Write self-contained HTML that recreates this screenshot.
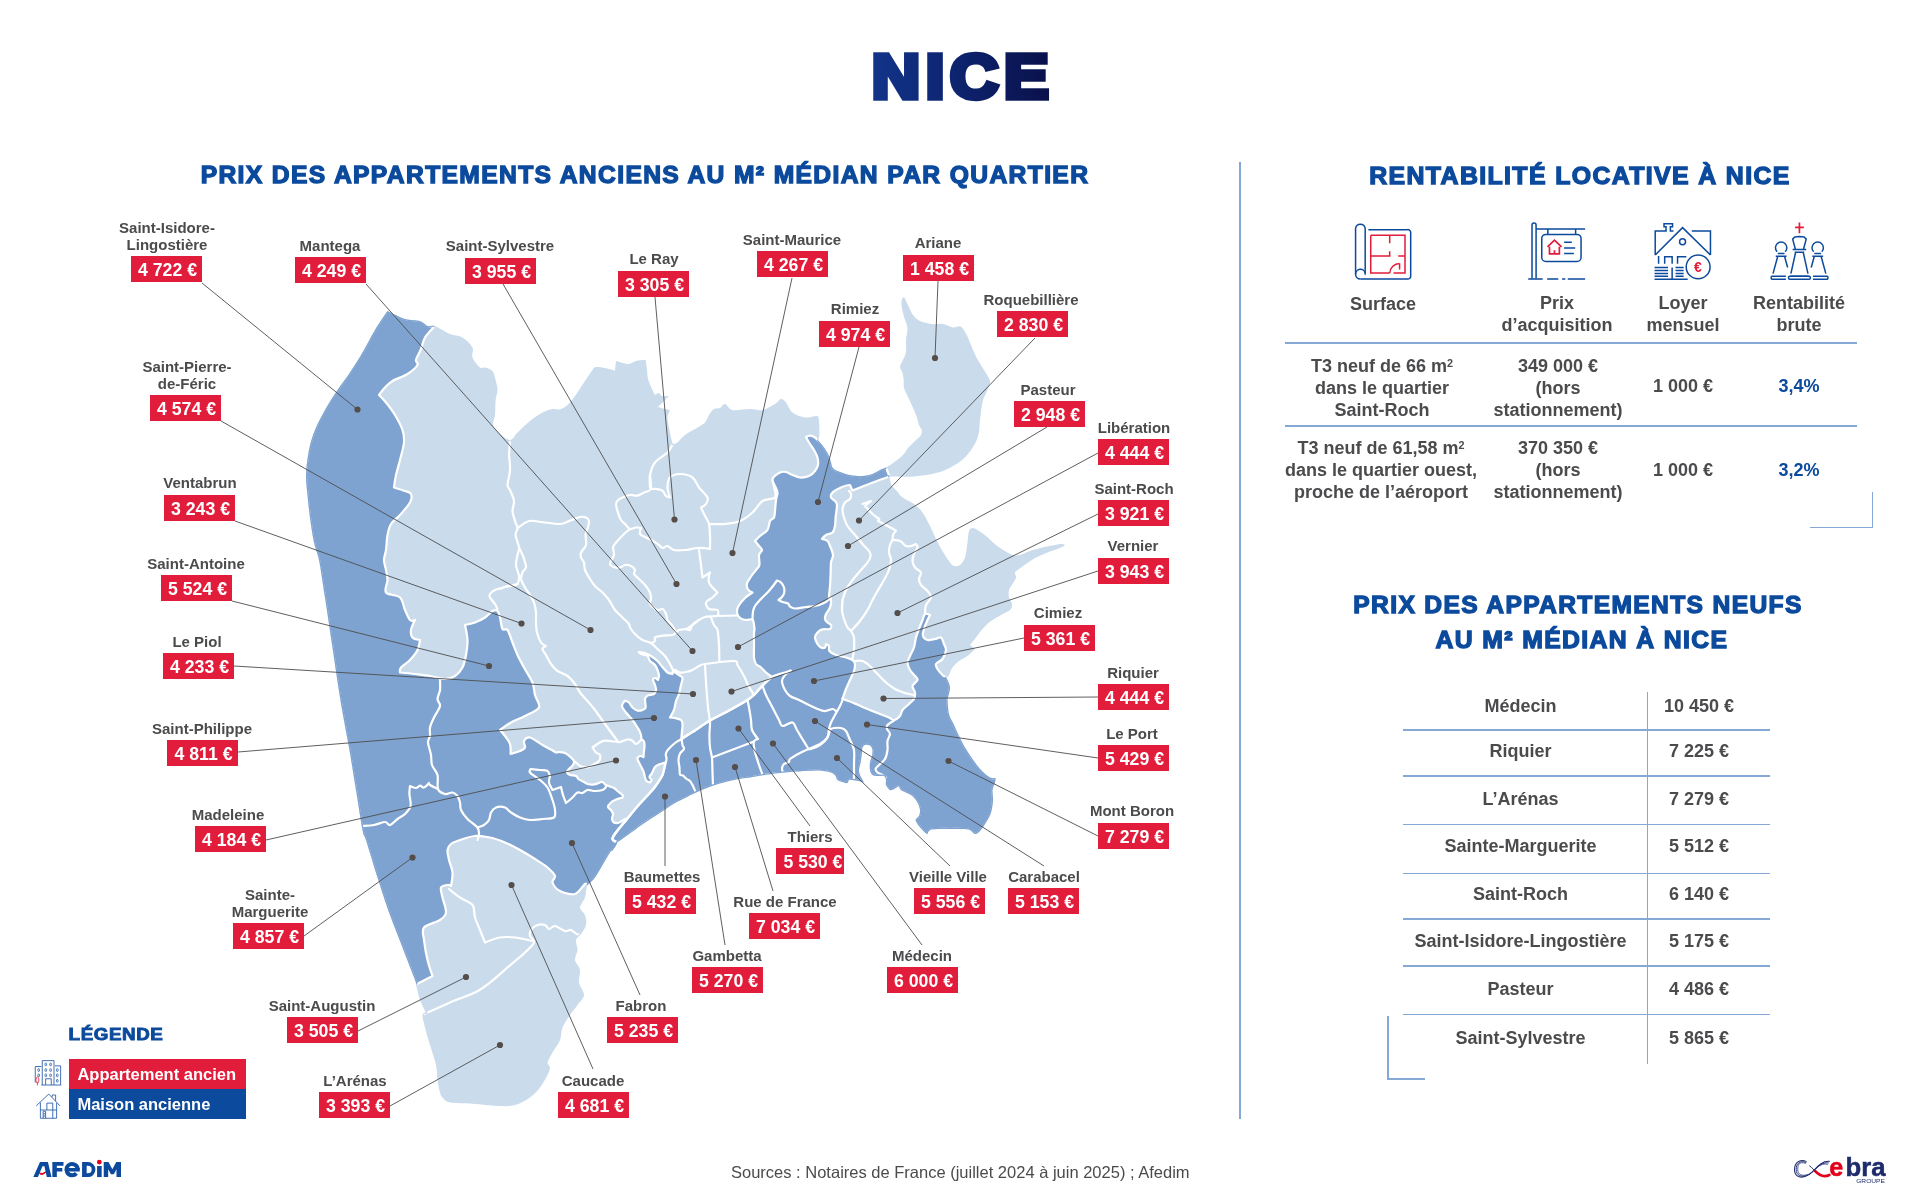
<!DOCTYPE html>
<html lang="fr"><head><meta charset="utf-8"><title>Nice</title>
<style>
html,body{margin:0;padding:0;background:#fff;}
html{overflow:hidden;width:1920px;height:1200px;}
body{width:1920px;height:1200px;position:relative;overflow:hidden;-webkit-font-smoothing:antialiased;font-family:"Liberation Sans",sans-serif;color:#4b4b4d;}
.abs{position:absolute;}
svg.map{position:absolute;left:0;top:0;}
.title{position:absolute;width:1200px;text-align:center;transform-origin:50% 50%;line-height:80px;white-space:nowrap;}
.title span{display:inline-block;font-weight:bold;font-size:62.4px;letter-spacing:5.2px;padding:0 4px;background:linear-gradient(90deg,#12358a 0%,#0d2470 45%,#090f47 100%);-webkit-background-clip:text;background-clip:text;color:transparent;-webkit-text-stroke:5.6px transparent;}
.h2{position:absolute;text-align:center;font-weight:bold;color:#0b4a9c;font-size:23.6px;line-height:30px;white-space:nowrap;-webkit-text-stroke:1.3px #0b4a9c;letter-spacing:1.3px;transform-origin:50% 50%;}
.ln,.bx,.ch,.tn,.tv,.src,.leg{will-change:transform;}
.ln{position:absolute;width:200px;text-align:center;font-weight:bold;font-size:15px;line-height:16.5px;color:#4b4b4d;white-space:nowrap;}
.bx{position:absolute;width:70.7px;height:26.4px;background:#e21d3b;color:#fff;font-weight:bold;font-size:17.7px;line-height:29.4px;text-align:center;white-space:nowrap;box-sizing:border-box;padding-left:2.4px;}
.vl{position:absolute;width:1.6px;background:#86a8d6;}
.hl{position:absolute;height:1.6px;background:#86a8d6;}
.ch{position:absolute;width:200px;text-align:center;font-weight:bold;font-size:18px;line-height:21.75px;color:#4b4b4d;}
.tn{position:absolute;left:1395px;width:251px;text-align:center;font-weight:bold;font-size:18px;line-height:22px;white-space:nowrap;}
.tv{position:absolute;left:1649px;width:100px;text-align:center;font-weight:bold;font-size:18px;line-height:22px;white-space:nowrap;}
.blue{color:#0b4a9c;}
sup{font-size:60%;line-height:0;vertical-align:baseline;position:relative;top:-0.45em;}
.src{position:absolute;left:731px;top:1162px;font-size:16.5px;line-height:20px;color:#4b4b4d;white-space:nowrap;}
.leg{position:absolute;left:68.7px;width:177px;height:30px;color:#fff;font-weight:bold;font-size:16.5px;line-height:30.2px;text-indent:8.4px;}
</style></head><body>
<div class="title" style="left:363.2px;top:36.75px;transform:scaleX(1.0729)"><span>NICE</span></div>
<div class="h2" style="left:44.5px;width:1200px;top:159.75px;transform:scaleX(1.0448);">PRIX DES APPARTEMENTS ANCIENS AU M² MÉDIAN PAR QUARTIER</div>
<svg class="map" width="1920" height="1200" viewBox="0 0 1920 1200"><path d="M387.5 311.0 C387.5 311.0 399.8 317.4 405.0 319.0 C410.2 320.6 416.4 319.9 420.0 321.0 C423.6 322.1 425.1 325.2 427.5 326.0 C429.9 326.8 431.4 324.7 435.0 326.0 C438.6 327.3 445.6 332.2 450.0 334.0 C454.4 335.8 458.9 335.3 462.5 337.5 C466.1 339.7 470.9 344.3 472.5 347.5 C474.1 350.7 471.3 354.3 472.5 357.5 C473.7 360.7 478.0 365.9 480.0 367.5 C482.0 369.1 483.0 366.9 485.0 367.5 C487.0 368.1 490.8 369.0 492.5 371.0 C494.2 373.0 494.8 377.0 495.6 380.0 C496.4 383.0 497.5 386.8 497.5 390.0 C497.5 393.2 496.0 396.0 495.6 400.0 C495.2 404.0 495.4 411.0 495.0 415.0 C494.6 419.0 492.4 422.2 493.0 425.0 C493.6 427.8 496.3 430.1 499.0 432.5 C501.7 434.9 507.0 440.0 510.0 440.0 C513.0 440.0 514.3 435.5 517.5 432.5 C520.7 429.5 526.0 424.2 530.0 421.0 C534.0 417.8 538.9 414.4 542.5 412.5 C546.1 410.6 549.7 409.5 552.5 409.0 C555.3 408.5 557.6 410.0 560.0 409.4 C562.4 408.8 565.1 407.1 567.5 405.0 C569.9 402.9 572.4 399.6 575.0 396.0 C577.6 392.4 581.2 386.7 584.0 382.5 C586.8 378.3 590.6 372.5 592.5 370.0 C594.4 367.5 594.0 367.3 596.0 367.0 C598.0 366.7 602.0 367.4 605.0 368.0 C608.0 368.6 615.0 370.6 615.0 370.6 C615.0 370.6 616.0 361.0 616.0 361.0 C616.0 361.0 618.9 362.0 621.0 362.5 C623.1 363.0 626.4 364.3 629.0 364.0 C631.6 363.7 634.8 361.2 637.5 360.6 C640.2 360.0 645.6 360.0 645.6 360.0 C645.6 360.0 646.6 366.0 647.0 369.0 C647.4 372.0 647.2 375.8 648.0 379.0 C648.8 382.2 650.9 386.4 652.0 389.0 C653.1 391.6 655.0 395.0 655.0 395.0 C655.0 395.0 657.9 392.8 659.0 393.0 C660.1 393.2 660.4 395.5 662.0 396.0 C663.6 396.5 669.0 396.0 669.0 396.0 C669.0 396.0 665.8 399.2 664.0 401.0 C662.2 402.8 658.0 407.0 658.0 407.0 C658.0 407.0 663.1 408.5 665.0 409.0 C666.9 409.5 670.0 410.0 670.0 410.0 C670.0 410.0 667.7 414.7 667.5 417.5 C667.3 420.3 668.4 424.3 669.0 427.5 C669.6 430.7 670.4 434.9 671.0 437.5 C671.6 440.1 673.0 444.0 673.0 444.0 C673.0 444.0 675.6 443.9 677.5 442.5 C679.4 441.1 681.8 437.4 685.0 435.0 C688.2 432.6 694.3 429.5 697.5 427.5 C700.7 425.5 703.2 424.5 705.0 422.5 C706.8 420.5 707.6 417.2 709.0 415.0 C710.4 412.8 712.2 410.1 714.0 409.0 C715.8 407.9 718.2 408.8 720.0 408.0 C721.8 407.2 723.0 403.7 725.0 404.0 C727.0 404.3 728.5 409.2 732.5 410.0 C736.5 410.8 745.2 409.0 750.0 409.0 C754.8 409.0 758.5 410.8 762.5 410.0 C766.5 409.2 772.0 405.8 775.0 404.0 C778.0 402.2 779.2 399.2 781.0 399.0 C782.8 398.8 784.2 400.3 786.0 402.5 C787.8 404.7 789.5 410.1 792.5 412.5 C795.5 414.9 801.1 416.9 805.0 417.5 C808.9 418.1 814.8 415.4 817.0 416.0 C819.2 416.6 818.6 418.8 819.0 421.0 C819.4 423.2 819.3 427.7 819.4 430.0 C819.5 432.3 819.5 434.0 819.4 435.6 C819.3 437.2 818.4 438.9 818.5 440.0 C818.6 441.1 819.0 441.1 820.0 442.5 C821.0 443.9 823.6 446.8 825.0 449.0 C826.4 451.2 828.0 453.8 829.0 456.0 C830.0 458.2 830.4 460.7 831.0 462.5 C831.6 464.3 831.5 466.1 832.5 467.5 C833.5 468.9 834.7 469.8 837.5 471.0 C840.3 472.2 846.0 474.2 850.0 475.0 C854.0 475.8 858.9 476.2 862.5 476.0 C866.1 475.8 869.7 475.0 872.5 474.0 C875.3 473.0 877.8 471.0 880.0 470.0 C882.2 469.0 883.9 468.6 886.0 467.5 C888.1 466.4 890.3 465.0 893.0 463.0 C895.7 461.0 900.6 457.4 903.0 455.0 C905.4 452.6 906.1 450.2 908.0 448.0 C909.9 445.8 912.9 443.1 915.0 441.0 C917.1 438.9 919.9 436.8 921.0 435.0 C922.1 433.2 922.0 431.6 921.7 430.0 C921.4 428.4 919.8 427.1 919.0 425.0 C918.2 422.9 917.7 419.6 916.7 416.7 C915.7 413.8 913.9 409.9 912.5 406.7 C911.1 403.5 909.4 399.7 908.0 396.7 C906.6 393.7 904.7 390.7 904.0 388.0 C903.3 385.3 903.9 382.4 903.7 380.0 C903.5 377.6 903.1 375.1 902.5 373.0 C901.9 370.9 899.9 368.8 900.0 366.7 C900.1 364.6 902.0 362.4 903.0 360.0 C904.0 357.6 905.5 354.9 906.0 351.7 C906.5 348.5 905.8 343.8 906.0 340.0 C906.2 336.2 907.8 331.7 907.5 328.0 C907.2 324.3 904.9 320.1 904.0 316.7 C903.1 313.3 902.1 309.4 901.7 306.7 C901.3 304.0 901.3 301.6 901.7 300.0 C902.1 298.4 904.0 296.7 904.0 296.7 C904.0 296.7 906.6 302.1 908.0 305.0 C909.4 307.9 911.1 312.4 913.0 315.0 C914.9 317.6 917.0 319.6 920.0 321.0 C923.0 322.4 928.0 323.5 931.7 324.0 C935.4 324.5 939.6 323.4 943.0 324.0 C946.4 324.6 950.1 327.1 953.0 327.5 C955.9 327.9 958.8 325.5 961.0 326.7 C963.2 327.9 965.1 332.1 966.7 335.0 C968.3 337.9 969.4 341.3 971.0 345.0 C972.6 348.7 974.6 354.0 976.7 358.0 C978.8 362.0 981.9 366.3 984.0 370.0 C986.1 373.7 989.4 377.8 990.0 381.0 C990.6 384.2 988.6 387.0 987.5 390.0 C986.4 393.0 984.0 396.5 983.0 400.0 C982.0 403.5 981.5 408.0 981.0 411.7 C980.5 415.4 980.0 419.8 979.7 423.0 C979.4 426.2 979.6 428.7 979.0 431.7 C978.4 434.7 977.8 438.1 976.0 441.7 C974.2 445.3 970.9 450.6 968.0 454.0 C965.1 457.4 962.0 460.3 958.0 463.0 C954.0 465.7 948.0 469.1 943.0 471.0 C938.0 472.9 932.0 474.1 926.7 475.0 C921.4 475.9 915.4 476.5 910.0 476.7 C904.6 476.9 896.3 476.5 893.0 476.5 C889.7 476.5 889.5 476.5 889.5 476.5 C889.5 476.5 890.5 482.8 891.5 485.0 C892.5 487.2 894.2 488.0 896.0 490.0 C897.8 492.0 899.6 495.3 902.5 497.5 C905.4 499.7 910.8 501.6 914.0 504.0 C917.2 506.4 919.9 509.0 922.5 512.5 C925.1 516.0 927.8 521.8 930.0 526.0 C932.2 530.2 934.0 535.0 936.0 539.0 C938.0 543.0 940.4 547.5 942.5 551.0 C944.6 554.5 947.2 558.6 949.0 561.0 C950.8 563.4 952.2 565.4 954.0 566.0 C955.8 566.6 958.2 566.4 960.0 565.0 C961.8 563.6 963.8 561.1 965.0 557.5 C966.2 553.9 966.9 546.7 967.5 542.5 C968.1 538.3 968.2 533.3 969.0 531.0 C969.8 528.7 971.1 528.2 972.5 528.0 C973.9 527.8 975.3 528.7 977.5 530.0 C979.7 531.3 983.0 533.6 986.0 536.0 C989.0 538.4 993.0 542.6 996.0 545.0 C999.0 547.4 1002.4 549.4 1005.0 551.0 C1007.6 552.6 1010.1 554.4 1012.5 555.0 C1014.9 555.6 1017.2 555.6 1020.0 555.0 C1022.8 554.4 1026.4 552.2 1030.0 551.0 C1033.6 549.8 1038.5 548.5 1042.5 547.5 C1046.5 546.5 1051.8 545.6 1055.0 545.0 C1058.2 544.4 1060.9 543.9 1062.5 544.0 C1064.1 544.1 1065.0 545.6 1065.0 545.6 C1065.0 545.6 1062.8 546.9 1060.0 548.0 C1057.2 549.1 1051.3 551.0 1047.5 552.5 C1043.7 554.0 1039.4 555.7 1036.0 557.5 C1032.6 559.3 1028.7 562.2 1026.0 564.0 C1023.3 565.8 1020.8 567.6 1019.0 569.0 C1017.2 570.4 1015.5 571.1 1015.0 572.5 C1014.5 573.9 1016.4 575.7 1016.0 577.5 C1015.6 579.3 1013.6 582.0 1012.5 584.0 C1011.4 586.0 1009.6 587.8 1009.0 590.0 C1008.4 592.2 1008.5 595.3 1009.0 597.5 C1009.5 599.7 1011.8 602.0 1012.0 604.0 C1012.2 606.0 1011.8 608.2 1010.0 610.0 C1008.2 611.8 1004.0 613.2 1001.0 615.0 C998.0 616.8 994.0 618.8 991.0 621.0 C988.0 623.2 984.9 626.4 982.5 629.0 C980.1 631.6 978.0 634.9 976.0 637.5 C974.0 640.1 970.0 645.0 970.0 645.0 C970.0 645.0 975.0 649.0 975.0 649.0 C975.0 649.0 970.1 654.1 967.5 656.0 C964.9 657.9 961.4 659.2 959.0 661.0 C956.6 662.8 954.1 665.3 952.5 667.5 C950.9 669.7 950.0 673.3 949.0 675.0 C948.0 676.7 946.0 678.0 946.0 678.0 C946.0 678.0 946.9 678.5 947.5 680.0 C948.1 681.5 949.9 684.7 950.0 687.5 C950.1 690.3 948.4 695.5 948.0 697.5 C947.6 699.5 947.3 697.4 947.5 700.0 C947.7 702.6 948.0 710.0 949.0 714.0 C950.0 718.0 952.4 721.5 954.0 725.0 C955.6 728.5 957.2 732.4 959.0 736.0 C960.8 739.6 962.8 743.8 965.0 747.5 C967.2 751.2 969.9 755.4 972.5 759.0 C975.1 762.6 978.2 767.0 981.0 770.0 C983.8 773.0 987.7 776.2 990.0 777.5 C992.3 778.8 995.6 778.0 995.6 778.0 C995.6 778.0 995.5 780.6 995.0 782.5 C994.5 784.4 992.8 787.2 992.5 790.0 C992.2 792.8 993.2 796.4 993.0 800.0 C992.8 803.6 992.1 808.9 991.0 812.5 C989.9 816.1 987.8 819.5 986.0 822.5 C984.2 825.5 981.8 829.2 980.0 831.0 C978.2 832.8 976.6 834.2 975.0 834.0 C973.4 833.8 972.0 830.8 970.0 830.0 C968.0 829.2 965.7 829.2 962.5 829.0 C959.3 828.8 954.0 829.0 950.0 829.0 C946.0 829.0 940.7 828.8 937.5 829.0 C934.3 829.2 931.6 829.2 930.0 830.0 C928.4 830.8 927.5 834.0 927.5 834.0 C927.5 834.0 926.4 833.8 925.0 832.5 C923.6 831.2 920.5 828.0 919.0 826.0 C917.5 824.0 915.6 821.6 915.6 820.0 C915.6 818.4 918.3 817.6 919.0 816.0 C919.7 814.4 920.2 812.2 920.0 810.0 C919.8 807.8 918.7 804.7 917.5 802.5 C916.3 800.3 914.3 797.6 912.5 796.0 C910.7 794.4 907.8 793.5 906.0 792.5 C904.2 791.5 902.1 791.0 901.0 790.0 C899.9 789.0 899.0 786.0 899.0 786.0 C899.0 786.0 895.4 788.4 894.0 789.0 C892.6 789.6 891.3 790.6 890.0 790.0 C888.7 789.4 886.6 786.6 886.0 785.0 C885.4 783.4 886.3 781.4 886.0 780.0 C885.7 778.6 885.4 776.6 884.0 776.0 C882.6 775.4 879.3 776.2 877.5 776.0 C875.7 775.8 873.7 776.0 872.5 775.0 C871.3 774.0 870.4 772.0 870.0 770.0 C869.6 768.0 869.7 764.7 870.0 762.5 C870.3 760.3 871.6 758.0 872.0 756.0 C872.4 754.0 872.8 751.7 872.5 750.0 C872.2 748.3 871.2 746.4 870.0 745.6 C868.8 744.8 866.2 744.7 865.0 745.0 C863.8 745.3 863.0 746.3 862.5 747.5 C862.0 748.7 862.2 750.5 862.0 752.5 C861.8 754.5 861.3 758.0 861.0 760.0 C860.7 762.0 860.3 763.4 860.0 765.0 C859.7 766.6 859.0 768.4 859.0 770.0 C859.0 771.6 859.2 773.0 860.0 775.0 C860.8 777.0 864.0 782.5 864.0 782.5 C864.0 782.5 860.8 781.4 859.0 781.0 C857.2 780.6 854.1 780.2 852.5 780.0 C850.9 779.8 849.8 779.5 849.0 780.0 C848.2 780.5 848.3 782.6 847.5 783.0 C846.7 783.4 845.6 783.0 844.0 782.5 C842.4 782.0 838.8 781.0 837.5 780.0 C836.2 779.0 836.6 777.2 835.6 776.0 C834.6 774.8 833.7 773.4 831.0 772.5 C828.3 771.6 822.4 770.9 819.0 770.6 C815.6 770.3 814.6 770.6 810.0 770.8 C805.4 771.0 796.4 771.5 790.0 772.0 C783.6 772.5 776.0 773.4 770.0 774.2 C764.0 775.0 758.3 776.1 752.5 777.0 C746.7 777.9 740.0 778.7 734.0 780.0 C728.0 781.3 721.1 783.0 715.0 785.0 C708.9 787.0 700.6 790.5 696.0 792.5 C691.4 794.5 689.4 795.8 686.0 797.5 C682.6 799.2 678.4 801.1 675.0 803.0 C671.6 804.9 668.7 807.1 665.0 809.5 C661.3 811.9 656.0 815.4 652.0 818.0 C648.0 820.6 642.9 824.0 640.0 826.0 C637.1 828.0 637.6 827.9 634.0 830.5 C630.4 833.1 620.6 839.4 617.2 842.5 C613.9 845.6 614.2 848.4 613.0 850.0 C611.8 851.6 611.7 850.1 610.0 852.5 C608.3 854.9 604.9 861.0 602.5 865.0 C600.1 869.0 597.4 874.3 595.0 877.5 C592.6 880.7 589.1 881.8 587.5 885.0 C585.9 888.2 586.2 893.9 585.0 897.5 C583.8 901.1 580.0 904.7 580.0 907.5 C580.0 910.3 584.0 912.2 585.0 915.0 C586.0 917.8 586.6 922.0 586.0 925.0 C585.4 928.0 582.6 931.6 581.0 934.0 C579.4 936.4 576.6 937.4 576.0 940.0 C575.4 942.6 577.7 946.8 577.5 950.0 C577.3 953.2 574.6 956.8 575.0 960.0 C575.4 963.2 579.4 966.4 580.0 970.0 C580.6 973.6 578.4 978.5 579.0 982.5 C579.6 986.5 584.2 991.4 584.0 995.0 C583.8 998.6 579.7 1001.8 577.5 1005.0 C575.3 1008.2 572.4 1011.4 570.0 1015.0 C567.6 1018.6 564.1 1023.5 562.5 1027.5 C560.9 1031.5 561.6 1036.0 560.0 1040.0 C558.4 1044.0 554.5 1048.9 552.5 1052.5 C550.5 1056.1 547.9 1060.1 547.5 1062.5 C547.1 1064.9 550.0 1065.5 550.0 1067.5 C550.0 1069.5 549.1 1071.8 547.5 1075.0 C545.9 1078.2 542.8 1083.9 540.0 1087.5 C537.2 1091.1 534.0 1094.7 530.0 1097.5 C526.0 1100.3 520.2 1103.6 515.0 1105.0 C509.8 1106.4 504.3 1106.2 497.5 1106.0 C490.7 1105.8 480.1 1104.3 472.5 1103.8 C464.9 1103.2 454.8 1103.5 450.0 1102.5 C445.2 1101.5 444.1 1099.1 442.5 1097.5 C440.9 1095.9 440.8 1095.3 440.0 1092.5 C439.2 1089.7 438.1 1084.4 437.5 1080.0 C436.9 1075.6 437.2 1070.6 436.0 1065.0 C434.8 1059.4 431.8 1051.0 430.0 1045.0 C428.2 1039.0 426.2 1032.3 425.0 1027.5 C423.8 1022.7 422.3 1017.4 422.5 1015.0 C422.7 1012.6 426.0 1012.5 426.0 1012.5 C426.0 1012.5 421.6 1004.5 420.0 1000.0 C418.4 995.5 416.8 987.7 416.0 984.5 C415.2 981.3 417.2 985.9 415.0 980.0 C412.8 974.1 406.5 957.9 402.5 947.5 C398.5 937.1 394.0 926.2 390.0 915.0 C386.0 903.8 381.3 889.5 377.5 877.5 C373.7 865.5 368.4 847.6 366.0 840.0 C363.6 832.4 364.1 838.0 362.5 830.0 C360.9 822.0 358.2 803.2 356.0 790.0 C353.8 776.8 351.6 762.3 349.0 747.5 C346.4 732.7 342.6 713.5 340.0 697.5 C337.4 681.5 334.9 663.5 332.5 647.5 C330.1 631.5 327.2 611.5 325.0 597.5 C322.8 583.5 320.8 568.8 319.0 560.0 C317.2 551.2 315.4 549.3 314.0 542.5 C312.6 535.7 311.0 525.1 310.0 517.5 C309.0 509.9 308.1 501.8 307.5 495.0 C306.9 488.2 305.8 482.2 306.0 475.0 C306.2 467.8 307.6 457.2 309.0 450.0 C310.4 442.8 312.4 436.4 315.0 430.0 C317.6 423.6 321.4 416.4 325.0 410.0 C328.6 403.6 333.5 396.0 337.5 390.0 C341.5 384.0 346.0 378.5 350.0 372.5 C354.0 366.5 358.5 359.3 362.5 352.5 C366.5 345.7 371.0 336.6 375.0 330.0 C379.0 323.4 387.5 311.0 387.5 311.0 Z" fill="#cadbec"/><defs><mask id="mk" maskUnits="userSpaceOnUse" x="0" y="0" width="1920" height="1200"><path d="M387.5 311.0 C387.5 311.0 399.8 317.4 405.0 319.0 C410.2 320.6 416.4 319.9 420.0 321.0 C423.6 322.1 425.1 325.2 427.5 326.0 C429.9 326.8 431.4 324.7 435.0 326.0 C438.6 327.3 445.6 332.2 450.0 334.0 C454.4 335.8 458.9 335.3 462.5 337.5 C466.1 339.7 470.9 344.3 472.5 347.5 C474.1 350.7 471.3 354.3 472.5 357.5 C473.7 360.7 478.0 365.9 480.0 367.5 C482.0 369.1 483.0 366.9 485.0 367.5 C487.0 368.1 490.8 369.0 492.5 371.0 C494.2 373.0 494.8 377.0 495.6 380.0 C496.4 383.0 497.5 386.8 497.5 390.0 C497.5 393.2 496.0 396.0 495.6 400.0 C495.2 404.0 495.4 411.0 495.0 415.0 C494.6 419.0 492.4 422.2 493.0 425.0 C493.6 427.8 496.3 430.1 499.0 432.5 C501.7 434.9 507.0 440.0 510.0 440.0 C513.0 440.0 514.3 435.5 517.5 432.5 C520.7 429.5 526.0 424.2 530.0 421.0 C534.0 417.8 538.9 414.4 542.5 412.5 C546.1 410.6 549.7 409.5 552.5 409.0 C555.3 408.5 557.6 410.0 560.0 409.4 C562.4 408.8 565.1 407.1 567.5 405.0 C569.9 402.9 572.4 399.6 575.0 396.0 C577.6 392.4 581.2 386.7 584.0 382.5 C586.8 378.3 590.6 372.5 592.5 370.0 C594.4 367.5 594.0 367.3 596.0 367.0 C598.0 366.7 602.0 367.4 605.0 368.0 C608.0 368.6 615.0 370.6 615.0 370.6 C615.0 370.6 616.0 361.0 616.0 361.0 C616.0 361.0 618.9 362.0 621.0 362.5 C623.1 363.0 626.4 364.3 629.0 364.0 C631.6 363.7 634.8 361.2 637.5 360.6 C640.2 360.0 645.6 360.0 645.6 360.0 C645.6 360.0 646.6 366.0 647.0 369.0 C647.4 372.0 647.2 375.8 648.0 379.0 C648.8 382.2 650.9 386.4 652.0 389.0 C653.1 391.6 655.0 395.0 655.0 395.0 C655.0 395.0 657.9 392.8 659.0 393.0 C660.1 393.2 660.4 395.5 662.0 396.0 C663.6 396.5 669.0 396.0 669.0 396.0 C669.0 396.0 665.8 399.2 664.0 401.0 C662.2 402.8 658.0 407.0 658.0 407.0 C658.0 407.0 663.1 408.5 665.0 409.0 C666.9 409.5 670.0 410.0 670.0 410.0 C670.0 410.0 667.7 414.7 667.5 417.5 C667.3 420.3 668.4 424.3 669.0 427.5 C669.6 430.7 670.4 434.9 671.0 437.5 C671.6 440.1 673.0 444.0 673.0 444.0 C673.0 444.0 675.6 443.9 677.5 442.5 C679.4 441.1 681.8 437.4 685.0 435.0 C688.2 432.6 694.3 429.5 697.5 427.5 C700.7 425.5 703.2 424.5 705.0 422.5 C706.8 420.5 707.6 417.2 709.0 415.0 C710.4 412.8 712.2 410.1 714.0 409.0 C715.8 407.9 718.2 408.8 720.0 408.0 C721.8 407.2 723.0 403.7 725.0 404.0 C727.0 404.3 728.5 409.2 732.5 410.0 C736.5 410.8 745.2 409.0 750.0 409.0 C754.8 409.0 758.5 410.8 762.5 410.0 C766.5 409.2 772.0 405.8 775.0 404.0 C778.0 402.2 779.2 399.2 781.0 399.0 C782.8 398.8 784.2 400.3 786.0 402.5 C787.8 404.7 789.5 410.1 792.5 412.5 C795.5 414.9 801.1 416.9 805.0 417.5 C808.9 418.1 814.8 415.4 817.0 416.0 C819.2 416.6 818.6 418.8 819.0 421.0 C819.4 423.2 819.3 427.7 819.4 430.0 C819.5 432.3 819.5 434.0 819.4 435.6 C819.3 437.2 818.4 438.9 818.5 440.0 C818.6 441.1 819.0 441.1 820.0 442.5 C821.0 443.9 823.6 446.8 825.0 449.0 C826.4 451.2 828.0 453.8 829.0 456.0 C830.0 458.2 830.4 460.7 831.0 462.5 C831.6 464.3 831.5 466.1 832.5 467.5 C833.5 468.9 834.7 469.8 837.5 471.0 C840.3 472.2 846.0 474.2 850.0 475.0 C854.0 475.8 858.9 476.2 862.5 476.0 C866.1 475.8 869.7 475.0 872.5 474.0 C875.3 473.0 877.8 471.0 880.0 470.0 C882.2 469.0 883.9 468.6 886.0 467.5 C888.1 466.4 890.3 465.0 893.0 463.0 C895.7 461.0 900.6 457.4 903.0 455.0 C905.4 452.6 906.1 450.2 908.0 448.0 C909.9 445.8 912.9 443.1 915.0 441.0 C917.1 438.9 919.9 436.8 921.0 435.0 C922.1 433.2 922.0 431.6 921.7 430.0 C921.4 428.4 919.8 427.1 919.0 425.0 C918.2 422.9 917.7 419.6 916.7 416.7 C915.7 413.8 913.9 409.9 912.5 406.7 C911.1 403.5 909.4 399.7 908.0 396.7 C906.6 393.7 904.7 390.7 904.0 388.0 C903.3 385.3 903.9 382.4 903.7 380.0 C903.5 377.6 903.1 375.1 902.5 373.0 C901.9 370.9 899.9 368.8 900.0 366.7 C900.1 364.6 902.0 362.4 903.0 360.0 C904.0 357.6 905.5 354.9 906.0 351.7 C906.5 348.5 905.8 343.8 906.0 340.0 C906.2 336.2 907.8 331.7 907.5 328.0 C907.2 324.3 904.9 320.1 904.0 316.7 C903.1 313.3 902.1 309.4 901.7 306.7 C901.3 304.0 901.3 301.6 901.7 300.0 C902.1 298.4 904.0 296.7 904.0 296.7 C904.0 296.7 906.6 302.1 908.0 305.0 C909.4 307.9 911.1 312.4 913.0 315.0 C914.9 317.6 917.0 319.6 920.0 321.0 C923.0 322.4 928.0 323.5 931.7 324.0 C935.4 324.5 939.6 323.4 943.0 324.0 C946.4 324.6 950.1 327.1 953.0 327.5 C955.9 327.9 958.8 325.5 961.0 326.7 C963.2 327.9 965.1 332.1 966.7 335.0 C968.3 337.9 969.4 341.3 971.0 345.0 C972.6 348.7 974.6 354.0 976.7 358.0 C978.8 362.0 981.9 366.3 984.0 370.0 C986.1 373.7 989.4 377.8 990.0 381.0 C990.6 384.2 988.6 387.0 987.5 390.0 C986.4 393.0 984.0 396.5 983.0 400.0 C982.0 403.5 981.5 408.0 981.0 411.7 C980.5 415.4 980.0 419.8 979.7 423.0 C979.4 426.2 979.6 428.7 979.0 431.7 C978.4 434.7 977.8 438.1 976.0 441.7 C974.2 445.3 970.9 450.6 968.0 454.0 C965.1 457.4 962.0 460.3 958.0 463.0 C954.0 465.7 948.0 469.1 943.0 471.0 C938.0 472.9 932.0 474.1 926.7 475.0 C921.4 475.9 915.4 476.5 910.0 476.7 C904.6 476.9 896.3 476.5 893.0 476.5 C889.7 476.5 889.5 476.5 889.5 476.5 C889.5 476.5 890.5 482.8 891.5 485.0 C892.5 487.2 894.2 488.0 896.0 490.0 C897.8 492.0 899.6 495.3 902.5 497.5 C905.4 499.7 910.8 501.6 914.0 504.0 C917.2 506.4 919.9 509.0 922.5 512.5 C925.1 516.0 927.8 521.8 930.0 526.0 C932.2 530.2 934.0 535.0 936.0 539.0 C938.0 543.0 940.4 547.5 942.5 551.0 C944.6 554.5 947.2 558.6 949.0 561.0 C950.8 563.4 952.2 565.4 954.0 566.0 C955.8 566.6 958.2 566.4 960.0 565.0 C961.8 563.6 963.8 561.1 965.0 557.5 C966.2 553.9 966.9 546.7 967.5 542.5 C968.1 538.3 968.2 533.3 969.0 531.0 C969.8 528.7 971.1 528.2 972.5 528.0 C973.9 527.8 975.3 528.7 977.5 530.0 C979.7 531.3 983.0 533.6 986.0 536.0 C989.0 538.4 993.0 542.6 996.0 545.0 C999.0 547.4 1002.4 549.4 1005.0 551.0 C1007.6 552.6 1010.1 554.4 1012.5 555.0 C1014.9 555.6 1017.2 555.6 1020.0 555.0 C1022.8 554.4 1026.4 552.2 1030.0 551.0 C1033.6 549.8 1038.5 548.5 1042.5 547.5 C1046.5 546.5 1051.8 545.6 1055.0 545.0 C1058.2 544.4 1060.9 543.9 1062.5 544.0 C1064.1 544.1 1065.0 545.6 1065.0 545.6 C1065.0 545.6 1062.8 546.9 1060.0 548.0 C1057.2 549.1 1051.3 551.0 1047.5 552.5 C1043.7 554.0 1039.4 555.7 1036.0 557.5 C1032.6 559.3 1028.7 562.2 1026.0 564.0 C1023.3 565.8 1020.8 567.6 1019.0 569.0 C1017.2 570.4 1015.5 571.1 1015.0 572.5 C1014.5 573.9 1016.4 575.7 1016.0 577.5 C1015.6 579.3 1013.6 582.0 1012.5 584.0 C1011.4 586.0 1009.6 587.8 1009.0 590.0 C1008.4 592.2 1008.5 595.3 1009.0 597.5 C1009.5 599.7 1011.8 602.0 1012.0 604.0 C1012.2 606.0 1011.8 608.2 1010.0 610.0 C1008.2 611.8 1004.0 613.2 1001.0 615.0 C998.0 616.8 994.0 618.8 991.0 621.0 C988.0 623.2 984.9 626.4 982.5 629.0 C980.1 631.6 978.0 634.9 976.0 637.5 C974.0 640.1 970.0 645.0 970.0 645.0 C970.0 645.0 975.0 649.0 975.0 649.0 C975.0 649.0 970.1 654.1 967.5 656.0 C964.9 657.9 961.4 659.2 959.0 661.0 C956.6 662.8 954.1 665.3 952.5 667.5 C950.9 669.7 950.0 673.3 949.0 675.0 C948.0 676.7 946.0 678.0 946.0 678.0 C946.0 678.0 946.9 678.5 947.5 680.0 C948.1 681.5 949.9 684.7 950.0 687.5 C950.1 690.3 948.4 695.5 948.0 697.5 C947.6 699.5 947.3 697.4 947.5 700.0 C947.7 702.6 948.0 710.0 949.0 714.0 C950.0 718.0 952.4 721.5 954.0 725.0 C955.6 728.5 957.2 732.4 959.0 736.0 C960.8 739.6 962.8 743.8 965.0 747.5 C967.2 751.2 969.9 755.4 972.5 759.0 C975.1 762.6 978.2 767.0 981.0 770.0 C983.8 773.0 987.7 776.2 990.0 777.5 C992.3 778.8 995.6 778.0 995.6 778.0 C995.6 778.0 995.5 780.6 995.0 782.5 C994.5 784.4 992.8 787.2 992.5 790.0 C992.2 792.8 993.2 796.4 993.0 800.0 C992.8 803.6 992.1 808.9 991.0 812.5 C989.9 816.1 987.8 819.5 986.0 822.5 C984.2 825.5 981.8 829.2 980.0 831.0 C978.2 832.8 976.6 834.2 975.0 834.0 C973.4 833.8 972.0 830.8 970.0 830.0 C968.0 829.2 965.7 829.2 962.5 829.0 C959.3 828.8 954.0 829.0 950.0 829.0 C946.0 829.0 940.7 828.8 937.5 829.0 C934.3 829.2 931.6 829.2 930.0 830.0 C928.4 830.8 927.5 834.0 927.5 834.0 C927.5 834.0 926.4 833.8 925.0 832.5 C923.6 831.2 920.5 828.0 919.0 826.0 C917.5 824.0 915.6 821.6 915.6 820.0 C915.6 818.4 918.3 817.6 919.0 816.0 C919.7 814.4 920.2 812.2 920.0 810.0 C919.8 807.8 918.7 804.7 917.5 802.5 C916.3 800.3 914.3 797.6 912.5 796.0 C910.7 794.4 907.8 793.5 906.0 792.5 C904.2 791.5 902.1 791.0 901.0 790.0 C899.9 789.0 899.0 786.0 899.0 786.0 C899.0 786.0 895.4 788.4 894.0 789.0 C892.6 789.6 891.3 790.6 890.0 790.0 C888.7 789.4 886.6 786.6 886.0 785.0 C885.4 783.4 886.3 781.4 886.0 780.0 C885.7 778.6 885.4 776.6 884.0 776.0 C882.6 775.4 879.3 776.2 877.5 776.0 C875.7 775.8 873.7 776.0 872.5 775.0 C871.3 774.0 870.4 772.0 870.0 770.0 C869.6 768.0 869.7 764.7 870.0 762.5 C870.3 760.3 871.6 758.0 872.0 756.0 C872.4 754.0 872.8 751.7 872.5 750.0 C872.2 748.3 871.2 746.4 870.0 745.6 C868.8 744.8 866.2 744.7 865.0 745.0 C863.8 745.3 863.0 746.3 862.5 747.5 C862.0 748.7 862.2 750.5 862.0 752.5 C861.8 754.5 861.3 758.0 861.0 760.0 C860.7 762.0 860.3 763.4 860.0 765.0 C859.7 766.6 859.0 768.4 859.0 770.0 C859.0 771.6 859.2 773.0 860.0 775.0 C860.8 777.0 864.0 782.5 864.0 782.5 C864.0 782.5 860.8 781.4 859.0 781.0 C857.2 780.6 854.1 780.2 852.5 780.0 C850.9 779.8 849.8 779.5 849.0 780.0 C848.2 780.5 848.3 782.6 847.5 783.0 C846.7 783.4 845.6 783.0 844.0 782.5 C842.4 782.0 838.8 781.0 837.5 780.0 C836.2 779.0 836.6 777.2 835.6 776.0 C834.6 774.8 833.7 773.4 831.0 772.5 C828.3 771.6 822.4 770.9 819.0 770.6 C815.6 770.3 814.6 770.6 810.0 770.8 C805.4 771.0 796.4 771.5 790.0 772.0 C783.6 772.5 776.0 773.4 770.0 774.2 C764.0 775.0 758.3 776.1 752.5 777.0 C746.7 777.9 740.0 778.7 734.0 780.0 C728.0 781.3 721.1 783.0 715.0 785.0 C708.9 787.0 700.6 790.5 696.0 792.5 C691.4 794.5 689.4 795.8 686.0 797.5 C682.6 799.2 678.4 801.1 675.0 803.0 C671.6 804.9 668.7 807.1 665.0 809.5 C661.3 811.9 656.0 815.4 652.0 818.0 C648.0 820.6 642.9 824.0 640.0 826.0 C637.1 828.0 637.6 827.9 634.0 830.5 C630.4 833.1 620.6 839.4 617.2 842.5 C613.9 845.6 614.2 848.4 613.0 850.0 C611.8 851.6 611.7 850.1 610.0 852.5 C608.3 854.9 604.9 861.0 602.5 865.0 C600.1 869.0 597.4 874.3 595.0 877.5 C592.6 880.7 589.1 881.8 587.5 885.0 C585.9 888.2 586.2 893.9 585.0 897.5 C583.8 901.1 580.0 904.7 580.0 907.5 C580.0 910.3 584.0 912.2 585.0 915.0 C586.0 917.8 586.6 922.0 586.0 925.0 C585.4 928.0 582.6 931.6 581.0 934.0 C579.4 936.4 576.6 937.4 576.0 940.0 C575.4 942.6 577.7 946.8 577.5 950.0 C577.3 953.2 574.6 956.8 575.0 960.0 C575.4 963.2 579.4 966.4 580.0 970.0 C580.6 973.6 578.4 978.5 579.0 982.5 C579.6 986.5 584.2 991.4 584.0 995.0 C583.8 998.6 579.7 1001.8 577.5 1005.0 C575.3 1008.2 572.4 1011.4 570.0 1015.0 C567.6 1018.6 564.1 1023.5 562.5 1027.5 C560.9 1031.5 561.6 1036.0 560.0 1040.0 C558.4 1044.0 554.5 1048.9 552.5 1052.5 C550.5 1056.1 547.9 1060.1 547.5 1062.5 C547.1 1064.9 550.0 1065.5 550.0 1067.5 C550.0 1069.5 549.1 1071.8 547.5 1075.0 C545.9 1078.2 542.8 1083.9 540.0 1087.5 C537.2 1091.1 534.0 1094.7 530.0 1097.5 C526.0 1100.3 520.2 1103.6 515.0 1105.0 C509.8 1106.4 504.3 1106.2 497.5 1106.0 C490.7 1105.8 480.1 1104.3 472.5 1103.8 C464.9 1103.2 454.8 1103.5 450.0 1102.5 C445.2 1101.5 444.1 1099.1 442.5 1097.5 C440.9 1095.9 440.8 1095.3 440.0 1092.5 C439.2 1089.7 438.1 1084.4 437.5 1080.0 C436.9 1075.6 437.2 1070.6 436.0 1065.0 C434.8 1059.4 431.8 1051.0 430.0 1045.0 C428.2 1039.0 426.2 1032.3 425.0 1027.5 C423.8 1022.7 422.3 1017.4 422.5 1015.0 C422.7 1012.6 426.0 1012.5 426.0 1012.5 C426.0 1012.5 421.6 1004.5 420.0 1000.0 C418.4 995.5 416.8 987.7 416.0 984.5 C415.2 981.3 417.2 985.9 415.0 980.0 C412.8 974.1 406.5 957.9 402.5 947.5 C398.5 937.1 394.0 926.2 390.0 915.0 C386.0 903.8 381.3 889.5 377.5 877.5 C373.7 865.5 368.4 847.6 366.0 840.0 C363.6 832.4 364.1 838.0 362.5 830.0 C360.9 822.0 358.2 803.2 356.0 790.0 C353.8 776.8 351.6 762.3 349.0 747.5 C346.4 732.7 342.6 713.5 340.0 697.5 C337.4 681.5 334.9 663.5 332.5 647.5 C330.1 631.5 327.2 611.5 325.0 597.5 C322.8 583.5 320.8 568.8 319.0 560.0 C317.2 551.2 315.4 549.3 314.0 542.5 C312.6 535.7 311.0 525.1 310.0 517.5 C309.0 509.9 308.1 501.8 307.5 495.0 C306.9 488.2 305.8 482.2 306.0 475.0 C306.2 467.8 307.6 457.2 309.0 450.0 C310.4 442.8 312.4 436.4 315.0 430.0 C317.6 423.6 321.4 416.4 325.0 410.0 C328.6 403.6 333.5 396.0 337.5 390.0 C341.5 384.0 346.0 378.5 350.0 372.5 C354.0 366.5 358.5 359.3 362.5 352.5 C366.5 345.7 371.0 336.6 375.0 330.0 C379.0 323.4 387.5 311.0 387.5 311.0 Z" fill="#fff" stroke="#000" stroke-width="2.6"/></mask></defs><path d="M435.0 326.0 C435.0 326.0 427.2 333.8 425.0 337.5 C422.8 341.2 422.4 345.4 421.0 349.0 C419.6 352.6 416.6 357.4 416.0 360.0 C415.4 362.6 418.9 362.8 417.5 365.0 C416.1 367.2 411.5 371.4 407.5 374.0 C403.5 376.6 396.1 378.8 392.5 381.0 C388.9 383.2 387.2 385.3 385.0 387.5 C382.8 389.7 379.0 395.0 379.0 395.0 C379.0 395.0 383.4 399.3 386.0 402.5 C388.6 405.7 392.4 410.6 395.0 415.0 C397.6 419.4 401.1 425.6 402.5 430.0 C403.9 434.4 404.4 437.7 404.0 442.5 C403.6 447.3 401.3 454.8 400.0 460.0 C398.7 465.2 397.0 470.6 396.0 475.0 C395.0 479.4 394.0 487.5 394.0 487.5 C394.0 487.5 402.3 490.0 405.0 491.0 C407.7 492.0 410.2 492.2 411.0 494.0 C411.8 495.8 411.8 499.1 410.0 502.5 C408.2 505.9 403.0 511.6 400.0 515.0 C397.0 518.4 393.0 520.8 391.0 524.0 C389.0 527.2 388.3 530.8 387.5 535.0 C386.7 539.2 386.6 546.0 386.0 550.0 C385.4 554.0 384.0 556.8 384.0 560.0 C384.0 563.2 385.4 566.8 386.0 570.0 C386.6 573.2 387.5 576.4 387.5 580.0 C387.5 583.6 384.0 589.7 386.0 592.5 C388.0 595.3 397.0 594.7 400.0 597.5 C403.0 600.3 403.4 606.4 405.0 610.0 C406.6 613.6 408.4 618.4 410.0 620.0 C411.6 621.6 415.0 620.0 415.0 620.0 C415.0 620.0 411.4 627.2 411.0 630.0 C410.6 632.8 411.1 635.9 412.5 637.5 C413.9 639.1 420.0 640.0 420.0 640.0 C420.0 640.0 419.1 646.8 417.5 650.0 C415.9 653.2 412.6 657.2 410.0 660.0 C407.4 662.8 402.6 665.5 401.0 667.5 C399.4 669.5 400.0 672.5 400.0 672.5 C400.0 672.5 410.2 673.4 415.0 674.0 C419.8 674.6 425.2 675.2 430.0 676.0 C434.8 676.8 441.0 679.0 445.0 679.0 C449.0 679.0 452.2 677.8 455.0 676.0 C457.8 674.2 460.7 670.9 462.5 667.5 C464.3 664.1 465.2 659.4 466.0 655.0 C466.8 650.6 467.7 644.8 467.5 640.0 C467.3 635.2 465.0 625.0 465.0 625.0 C465.0 625.0 471.8 623.7 475.0 622.5 C478.2 621.3 482.2 619.3 485.0 617.5 C487.8 615.7 490.5 612.0 492.5 611.0 C494.5 610.0 496.3 610.0 497.5 611.0 C498.7 612.0 499.2 614.6 500.0 617.5 C500.8 620.4 501.3 627.0 502.5 629.0 C503.7 631.0 505.9 627.8 507.5 630.0 C509.1 632.2 510.9 638.5 512.5 642.5 C514.1 646.5 515.7 651.0 517.5 655.0 C519.3 659.0 521.6 663.1 524.0 667.5 C526.4 671.9 530.7 678.1 532.5 682.5 C534.3 686.9 534.0 691.0 535.0 695.0 C536.0 699.0 540.6 704.1 539.0 707.5 C537.4 710.9 529.5 713.6 525.0 716.0 C520.5 718.4 515.0 720.3 511.0 722.5 C507.0 724.7 500.0 730.0 500.0 730.0 C500.0 730.0 503.4 733.8 505.0 736.0 C506.6 738.2 509.1 741.1 510.0 744.0 C510.9 746.9 510.6 754.0 510.6 754.0 C510.6 754.0 517.7 752.0 520.0 751.0 C522.3 750.0 524.4 749.1 525.0 747.5 C525.6 745.9 523.2 742.6 524.0 741.0 C524.8 739.4 527.0 736.9 530.0 737.5 C533.0 738.1 539.0 743.0 542.5 745.0 C546.0 747.0 549.8 748.8 552.0 750.0 C554.2 751.2 554.9 752.2 556.0 752.5 C557.1 752.8 557.6 751.9 559.0 752.0 C560.4 752.1 563.1 752.1 565.0 753.0 C566.9 753.9 569.6 756.2 571.0 757.5 C572.4 758.8 573.7 759.8 574.0 761.0 C574.3 762.2 573.8 763.7 573.0 765.0 C572.2 766.3 570.0 767.8 569.0 769.0 C568.0 770.2 566.8 771.5 567.0 772.5 C567.2 773.5 568.6 774.4 570.0 775.0 C571.4 775.6 574.6 775.3 576.0 776.0 C577.4 776.7 577.7 778.5 579.0 779.5 C580.3 780.5 582.6 781.3 584.0 782.0 C585.4 782.7 585.9 783.6 587.5 784.0 C589.1 784.4 592.0 784.7 594.0 784.5 C596.0 784.3 598.6 782.9 600.0 782.5 C601.4 782.1 601.5 781.6 602.5 782.0 C603.5 782.4 604.2 784.0 606.0 785.0 C607.8 786.0 612.2 787.0 614.0 788.0 C615.8 789.0 616.1 789.9 617.5 791.0 C618.9 792.1 621.7 794.0 622.5 795.0 C623.3 796.0 623.3 796.9 622.5 797.5 C621.7 798.1 619.3 798.2 617.5 799.0 C615.7 799.8 612.5 801.2 611.0 802.5 C609.5 803.8 608.0 805.8 608.0 807.0 C608.0 808.2 610.2 808.9 611.0 810.0 C611.8 811.1 612.8 812.6 613.0 814.0 C613.2 815.4 611.8 817.6 612.0 819.0 C612.2 820.4 613.0 821.9 614.0 822.5 C615.0 823.1 616.7 823.2 618.0 823.0 C619.3 822.8 620.9 821.6 622.0 821.0 C623.1 820.4 624.2 819.3 625.0 819.0 C625.8 818.7 627.0 819.0 627.0 819.0 C627.0 819.0 614.3 833.7 612.8 837.5 C611.2 841.3 617.2 840.5 617.2 842.5 C617.3 844.5 614.2 848.4 613.0 850.0 C611.8 851.6 611.7 850.1 610.0 852.5 C608.3 854.9 604.9 861.0 602.5 865.0 C600.1 869.0 597.4 874.3 595.0 877.5 C592.6 880.7 589.1 884.0 587.5 885.0 C585.9 886.0 587.0 882.6 585.0 884.0 C583.0 885.4 579.0 892.9 575.0 894.0 C571.0 895.1 563.6 892.8 560.0 891.0 C556.4 889.2 553.3 884.9 552.5 882.5 C551.7 880.1 555.8 878.4 555.0 876.0 C554.2 873.6 550.7 870.2 547.5 867.5 C544.3 864.8 539.4 861.8 535.0 859.0 C530.6 856.2 524.8 852.6 520.0 850.0 C515.2 847.4 509.8 844.5 505.0 842.5 C500.2 840.5 494.8 838.5 490.0 837.5 C485.2 836.5 479.8 835.6 475.0 836.0 C470.2 836.4 463.8 838.7 460.0 840.0 C456.2 841.3 453.0 842.4 451.0 844.0 C449.0 845.6 447.8 847.4 447.5 850.0 C447.2 852.6 448.2 856.4 449.0 860.0 C449.8 863.6 452.2 868.3 452.5 872.5 C452.8 876.7 451.0 886.0 451.0 886.0 C451.0 886.0 449.1 884.8 447.5 885.0 C445.9 885.2 441.8 885.5 441.0 887.5 C440.2 889.5 441.7 893.5 442.5 897.5 C443.3 901.5 446.4 908.9 446.0 912.5 C445.6 916.1 443.5 917.6 440.0 920.0 C436.5 922.4 426.6 924.3 424.0 927.5 C421.4 930.7 423.4 934.8 424.0 940.0 C424.6 945.2 426.1 954.2 427.5 960.0 C428.9 965.8 432.5 976.0 432.5 976.0 C432.5 976.0 416.0 984.5 416.0 984.5 C416.0 984.5 417.2 985.9 415.0 980.0 C412.8 974.1 406.5 957.9 402.5 947.5 C398.5 937.1 394.0 926.2 390.0 915.0 C386.0 903.8 381.3 889.5 377.5 877.5 C373.7 865.5 368.4 847.6 366.0 840.0 C363.6 832.4 364.1 838.0 362.5 830.0 C360.9 822.0 358.2 803.2 356.0 790.0 C353.8 776.8 351.6 762.3 349.0 747.5 C346.4 732.7 342.6 713.5 340.0 697.5 C337.4 681.5 334.9 663.5 332.5 647.5 C330.1 631.5 327.2 611.5 325.0 597.5 C322.8 583.5 320.8 568.8 319.0 560.0 C317.2 551.2 315.4 549.3 314.0 542.5 C312.6 535.7 311.0 525.1 310.0 517.5 C309.0 509.9 308.1 501.8 307.5 495.0 C306.9 488.2 305.8 482.2 306.0 475.0 C306.2 467.8 307.6 457.2 309.0 450.0 C310.4 442.8 312.4 436.4 315.0 430.0 C317.6 423.6 321.4 416.4 325.0 410.0 C328.6 403.6 333.5 396.0 337.5 390.0 C341.5 384.0 346.0 378.5 350.0 372.5 C354.0 366.5 358.5 359.3 362.5 352.5 C366.5 345.7 371.0 336.6 375.0 330.0 C379.0 323.4 387.5 311.0 387.5 311.0 C387.5 311.0 399.8 317.4 405.0 319.0 C410.2 320.6 416.4 319.9 420.0 321.0 C423.6 322.1 425.1 325.2 427.5 326.0 C429.9 326.8 435.0 326.0 435.0 326.0 Z" fill="#7fa3d1"/><path d="M638.8 652.0 C638.8 652.0 643.0 652.4 645.0 653.0 C647.0 653.6 649.0 654.7 651.0 656.0 C653.0 657.3 655.7 659.2 657.5 661.0 C659.3 662.8 660.9 665.2 662.5 667.0 C664.1 668.8 665.9 671.4 667.5 672.5 C669.1 673.6 672.5 674.0 672.5 674.0 C672.5 674.0 673.0 671.0 673.0 671.0 C673.0 671.0 677.5 673.9 679.0 675.0 C680.5 676.1 682.2 676.4 682.5 678.0 C682.8 679.6 681.6 682.4 681.0 685.0 C680.4 687.6 679.8 691.4 679.0 694.0 C678.2 696.6 676.8 698.4 676.0 701.0 C675.2 703.6 675.0 707.4 674.0 710.0 C673.0 712.6 670.0 717.5 670.0 717.5 C670.0 717.5 673.2 717.6 675.0 718.0 C676.8 718.4 679.8 719.0 681.0 720.0 C682.2 721.0 682.3 722.0 682.5 724.0 C682.7 726.0 682.2 730.1 682.0 732.5 C681.8 734.9 681.5 739.0 681.5 739.0 C681.5 739.0 687.8 734.9 690.0 733.5 C692.2 732.1 692.0 732.5 695.0 730.5 C698.0 728.5 703.4 724.3 709.0 721.0 C714.6 717.7 723.8 713.4 730.0 710.0 C736.2 706.6 743.7 702.4 747.5 700.0 C751.3 697.6 751.6 697.3 754.0 695.0 C756.4 692.7 759.6 688.5 762.5 685.6 C765.4 682.7 772.0 677.0 772.0 677.0 C772.0 677.0 767.8 674.0 766.0 672.5 C764.2 671.0 762.6 668.9 761.0 667.5 C759.4 666.1 757.1 665.6 756.0 664.0 C754.9 662.4 754.3 660.5 754.0 657.5 C753.7 654.5 754.0 649.0 754.0 645.0 C754.0 641.0 753.9 634.9 754.0 632.5 C754.1 630.1 754.5 631.2 754.5 630.0 C754.5 628.8 754.3 626.7 754.0 625.0 C753.7 623.3 753.8 620.3 752.5 619.5 C751.2 618.7 748.0 620.2 746.0 620.0 C744.0 619.8 741.4 619.2 740.0 618.0 C738.6 616.8 737.2 614.4 737.0 612.5 C736.8 610.6 737.2 608.3 738.5 606.0 C739.8 603.7 742.8 600.2 745.0 598.0 C747.2 595.8 752.5 592.5 752.5 592.5 C752.5 592.5 748.9 590.9 748.0 589.5 C747.1 588.1 746.5 585.6 747.0 583.5 C747.5 581.4 749.6 578.7 751.0 576.5 C752.4 574.3 754.7 571.8 756.0 570.0 C757.3 568.2 758.9 567.4 759.4 565.0 C759.9 562.6 758.6 557.4 759.0 555.0 C759.4 552.6 762.0 551.4 762.0 550.0 C762.0 548.6 760.1 547.4 759.0 546.0 C757.9 544.6 755.0 541.0 755.0 541.0 C755.0 541.0 758.0 537.8 760.0 536.0 C762.0 534.2 765.9 532.4 767.5 530.0 C769.1 527.6 769.0 523.0 770.0 521.0 C771.0 519.0 773.2 519.1 774.0 517.5 C774.8 515.9 774.7 513.8 775.0 511.0 C775.3 508.2 775.6 503.0 776.0 500.0 C776.4 497.0 777.7 494.7 777.5 492.5 C777.3 490.3 775.8 488.2 775.0 486.0 C774.2 483.8 771.7 481.2 772.5 479.0 C773.3 476.8 777.8 473.6 780.0 472.5 C782.2 471.4 784.0 471.6 786.0 472.0 C788.0 472.4 790.3 474.1 792.5 475.0 C794.7 475.9 797.4 477.3 800.0 477.5 C802.6 477.7 806.6 477.0 809.0 476.0 C811.4 475.0 813.6 472.8 815.0 471.0 C816.4 469.2 817.6 467.2 818.0 465.0 C818.4 462.8 818.1 459.9 817.5 457.5 C816.9 455.1 815.4 452.4 814.0 450.0 C812.6 447.6 810.3 444.6 809.0 442.5 C807.7 440.4 806.0 437.0 806.0 437.0 C806.0 437.0 808.6 435.5 810.0 435.6 C811.4 435.7 813.4 436.4 815.0 437.5 C816.6 438.6 818.4 440.7 820.0 442.5 C821.6 444.3 823.6 446.8 825.0 449.0 C826.4 451.2 828.0 453.8 829.0 456.0 C830.0 458.2 830.4 460.7 831.0 462.5 C831.6 464.3 831.5 466.1 832.5 467.5 C833.5 468.9 834.7 469.8 837.5 471.0 C840.3 472.2 846.0 474.2 850.0 475.0 C854.0 475.8 858.9 476.2 862.5 476.0 C866.1 475.8 869.7 475.0 872.5 474.0 C875.3 473.0 877.8 471.0 880.0 470.0 C882.2 469.0 886.0 467.5 886.0 467.5 C886.0 467.5 889.5 476.5 889.5 476.5 C889.5 476.5 879.3 480.1 875.0 481.7 C870.7 483.3 866.1 485.1 862.5 486.5 C858.9 487.9 852.5 490.5 852.5 490.5 C852.5 490.5 851.5 488.4 851.0 487.5 C850.5 486.6 851.0 485.0 849.4 485.0 C847.8 485.0 843.7 486.3 841.0 487.5 C838.3 488.7 834.1 490.9 832.5 492.5 C830.9 494.1 830.6 496.1 831.0 497.5 C831.4 498.9 834.0 499.8 835.0 501.0 C836.0 502.2 836.9 502.4 837.0 505.0 C837.1 507.6 835.9 514.1 835.6 517.5 C835.3 520.9 835.5 523.6 835.0 526.0 C834.5 528.4 833.9 531.1 832.5 532.5 C831.1 533.9 827.7 534.0 826.0 535.0 C824.3 536.0 822.0 539.0 822.0 539.0 C822.0 539.0 826.2 539.9 827.5 541.0 C828.8 542.1 829.1 543.8 830.0 546.0 C830.9 548.2 832.8 552.4 833.0 555.0 C833.2 557.6 831.4 559.5 831.0 562.5 C830.6 565.5 830.8 570.2 830.6 574.0 C830.4 577.8 830.3 582.2 830.0 586.0 C829.7 589.8 828.8 595.3 829.0 597.5 C829.2 599.7 830.8 598.4 831.0 600.0 C831.2 601.6 830.8 605.3 830.0 607.5 C829.2 609.7 826.8 612.2 826.0 614.0 C825.2 615.8 824.8 617.6 825.0 619.0 C825.2 620.4 826.5 621.5 827.5 622.5 C828.5 623.5 830.6 624.0 831.0 625.0 C831.4 626.0 831.4 628.3 830.0 629.0 C828.6 629.7 824.5 628.8 822.5 629.4 C820.5 630.0 818.7 631.2 817.5 632.5 C816.3 633.8 815.0 635.7 815.0 637.5 C815.0 639.3 816.5 642.4 817.5 644.0 C818.5 645.6 819.8 646.9 821.0 647.5 C822.2 648.1 824.2 648.1 825.0 647.5 C825.8 646.9 826.0 644.0 826.0 644.0 C826.0 644.0 828.5 644.9 829.0 646.0 C829.5 647.1 828.3 649.6 829.4 651.0 C830.5 652.4 833.3 654.0 836.0 655.0 C838.7 656.0 843.4 656.7 846.0 657.5 C848.6 658.3 851.1 659.0 852.5 660.0 C853.9 661.0 854.8 662.2 855.0 664.0 C855.2 665.8 854.8 668.4 854.0 671.0 C853.2 673.6 851.3 677.1 850.0 680.0 C848.7 682.9 847.1 686.2 846.0 689.0 C844.9 691.8 843.5 695.9 843.0 697.5 C842.5 699.1 841.5 698.2 843.0 699.0 C844.5 699.8 848.6 700.9 852.5 702.5 C856.4 704.1 863.1 707.2 867.5 709.0 C871.9 710.8 876.6 712.6 880.0 714.0 C883.4 715.4 886.8 716.5 889.0 717.5 C891.2 718.5 892.2 720.2 894.0 720.0 C895.8 719.8 898.6 717.6 900.0 716.0 C901.4 714.4 901.1 711.9 902.5 710.0 C903.9 708.1 907.2 705.8 909.0 704.0 C910.8 702.2 913.0 700.8 914.0 699.0 C915.0 697.2 915.2 694.6 915.0 692.5 C914.8 690.4 912.1 688.0 912.5 686.0 C912.9 684.0 917.1 681.6 917.5 680.0 C917.9 678.4 916.2 677.6 915.0 676.0 C913.8 674.4 911.2 672.2 910.0 670.0 C908.8 667.8 907.5 664.7 907.5 662.5 C907.5 660.3 909.0 658.4 910.0 656.0 C911.0 653.6 913.0 650.5 914.0 647.5 C915.0 644.5 915.2 640.5 916.0 637.5 C916.8 634.5 918.0 631.8 919.0 629.0 C920.0 626.2 921.5 622.4 922.5 620.0 C923.5 617.6 923.8 614.8 925.0 614.0 C926.2 613.2 930.0 615.0 930.0 615.0 C930.0 615.0 928.5 617.8 927.5 620.0 C926.5 622.2 924.7 626.4 924.0 629.0 C923.3 631.6 922.4 634.2 923.0 636.0 C923.6 637.8 925.6 639.5 927.5 640.0 C929.4 640.5 932.8 639.4 935.0 639.0 C937.2 638.6 939.6 636.7 941.0 637.5 C942.4 638.3 943.2 642.0 944.0 644.0 C944.8 646.0 946.2 647.6 946.0 650.0 C945.8 652.4 944.1 656.8 942.5 659.0 C940.9 661.2 936.8 662.4 936.0 664.0 C935.2 665.6 936.5 667.2 937.5 669.0 C938.5 670.8 941.1 673.6 942.5 675.0 C943.9 676.4 945.2 676.7 946.0 677.5 C946.8 678.3 946.9 678.4 947.5 680.0 C948.1 681.6 949.9 684.7 950.0 687.5 C950.1 690.3 948.4 695.5 948.0 697.5 C947.6 699.5 947.3 697.4 947.5 700.0 C947.7 702.6 948.0 710.0 949.0 714.0 C950.0 718.0 952.4 721.5 954.0 725.0 C955.6 728.5 957.2 732.4 959.0 736.0 C960.8 739.6 962.8 743.8 965.0 747.5 C967.2 751.2 969.9 755.4 972.5 759.0 C975.1 762.6 978.2 767.0 981.0 770.0 C983.8 773.0 987.7 776.2 990.0 777.5 C992.3 778.8 995.6 778.0 995.6 778.0 C995.6 778.0 995.5 780.6 995.0 782.5 C994.5 784.4 992.8 787.2 992.5 790.0 C992.2 792.8 993.2 796.4 993.0 800.0 C992.8 803.6 992.1 808.9 991.0 812.5 C989.9 816.1 987.8 819.5 986.0 822.5 C984.2 825.5 981.8 829.2 980.0 831.0 C978.2 832.8 976.6 834.2 975.0 834.0 C973.4 833.8 972.0 830.8 970.0 830.0 C968.0 829.2 965.7 829.2 962.5 829.0 C959.3 828.8 954.0 829.0 950.0 829.0 C946.0 829.0 940.7 828.8 937.5 829.0 C934.3 829.2 931.6 829.2 930.0 830.0 C928.4 830.8 927.5 834.0 927.5 834.0 C927.5 834.0 926.4 833.8 925.0 832.5 C923.6 831.2 920.5 828.0 919.0 826.0 C917.5 824.0 915.6 821.6 915.6 820.0 C915.6 818.4 918.3 817.6 919.0 816.0 C919.7 814.4 920.2 812.2 920.0 810.0 C919.8 807.8 918.7 804.7 917.5 802.5 C916.3 800.3 914.3 797.6 912.5 796.0 C910.7 794.4 907.8 793.5 906.0 792.5 C904.2 791.5 902.1 791.0 901.0 790.0 C899.9 789.0 899.0 786.0 899.0 786.0 C899.0 786.0 895.4 788.4 894.0 789.0 C892.6 789.6 891.3 790.6 890.0 790.0 C888.7 789.4 886.6 786.6 886.0 785.0 C885.4 783.4 886.3 781.4 886.0 780.0 C885.7 778.6 885.4 776.6 884.0 776.0 C882.6 775.4 879.3 776.2 877.5 776.0 C875.7 775.8 873.7 776.0 872.5 775.0 C871.3 774.0 870.4 772.0 870.0 770.0 C869.6 768.0 869.7 764.7 870.0 762.5 C870.3 760.3 871.6 758.0 872.0 756.0 C872.4 754.0 872.8 751.7 872.5 750.0 C872.2 748.3 871.2 746.4 870.0 745.6 C868.8 744.8 866.2 744.7 865.0 745.0 C863.8 745.3 863.0 746.3 862.5 747.5 C862.0 748.7 862.2 750.5 862.0 752.5 C861.8 754.5 861.3 758.0 861.0 760.0 C860.7 762.0 860.3 763.4 860.0 765.0 C859.7 766.6 859.0 768.4 859.0 770.0 C859.0 771.6 859.2 773.0 860.0 775.0 C860.8 777.0 864.0 782.5 864.0 782.5 C864.0 782.5 860.8 781.4 859.0 781.0 C857.2 780.6 854.1 780.2 852.5 780.0 C850.9 779.8 849.8 779.5 849.0 780.0 C848.2 780.5 848.3 782.6 847.5 783.0 C846.7 783.4 845.6 783.0 844.0 782.5 C842.4 782.0 838.8 781.0 837.5 780.0 C836.2 779.0 836.6 777.2 835.6 776.0 C834.6 774.8 833.7 773.4 831.0 772.5 C828.3 771.6 822.4 770.9 819.0 770.6 C815.6 770.3 814.6 770.6 810.0 770.8 C805.4 771.0 796.4 771.5 790.0 772.0 C783.6 772.5 776.0 773.4 770.0 774.2 C764.0 775.0 758.3 776.1 752.5 777.0 C746.7 777.9 740.0 778.7 734.0 780.0 C728.0 781.3 721.1 783.0 715.0 785.0 C708.9 787.0 700.6 790.5 696.0 792.5 C691.4 794.5 689.4 795.8 686.0 797.5 C682.6 799.2 678.4 801.1 675.0 803.0 C671.6 804.9 668.7 807.1 665.0 809.5 C661.3 811.9 656.0 815.4 652.0 818.0 C648.0 820.6 642.9 824.0 640.0 826.0 C637.1 828.0 637.6 827.9 634.0 830.5 C630.4 833.1 617.2 842.5 617.2 842.5 C617.2 842.5 611.2 841.3 612.8 837.5 C614.3 833.7 622.6 824.4 627.0 819.0 C631.4 813.6 635.9 808.1 640.0 803.5 C644.1 798.9 649.6 793.4 652.5 790.0 C655.4 786.6 656.4 784.9 658.0 782.5 C659.6 780.1 661.5 777.4 662.5 775.0 C663.5 772.6 664.1 769.5 664.5 767.5 C664.9 765.5 665.0 762.5 665.0 762.5 C665.0 762.5 660.6 763.8 659.0 764.5 C657.4 765.2 656.1 765.6 655.0 767.0 C653.9 768.4 652.9 771.4 652.0 773.0 C651.1 774.6 649.6 775.9 649.5 777.0 C649.4 778.1 651.4 779.1 651.5 780.0 C651.6 780.9 650.0 782.5 650.0 782.5 C650.0 782.5 647.3 781.8 646.5 781.0 C645.7 780.2 645.5 779.0 645.0 777.5 C644.5 776.0 644.3 773.6 643.5 771.5 C642.7 769.4 640.9 766.3 640.0 764.5 C639.1 762.7 638.4 761.5 638.0 760.5 C637.6 759.5 637.2 758.7 637.5 758.0 C637.8 757.3 639.0 756.2 640.0 756.0 C641.0 755.8 643.5 757.0 643.5 757.0 C643.5 757.0 643.8 752.8 644.0 751.0 C644.2 749.2 644.5 747.5 644.5 746.0 C644.5 744.5 644.5 742.6 644.0 741.5 C643.5 740.4 642.0 740.0 641.5 739.0 C641.0 738.0 641.4 736.4 641.0 735.0 C640.6 733.6 639.6 731.2 639.0 730.0 C638.4 728.8 638.5 729.1 637.5 727.5 C636.5 725.9 634.3 722.4 632.5 720.0 C630.7 717.6 627.7 714.7 626.0 712.5 C624.3 710.3 622.2 707.9 622.0 706.0 C621.8 704.1 625.0 700.6 625.0 700.6 C625.0 700.6 627.8 701.4 629.0 702.5 C630.2 703.6 631.1 706.2 632.5 707.5 C633.9 708.8 635.9 710.2 637.5 710.6 C639.1 711.0 641.2 710.5 642.5 710.0 C643.8 709.5 645.2 709.3 645.6 707.5 C646.0 705.7 644.7 700.9 645.0 699.0 C645.3 697.1 646.1 696.4 647.5 695.6 C648.9 694.8 652.6 694.9 654.0 694.0 C655.4 693.1 655.8 691.4 656.0 690.0 C656.2 688.6 655.5 686.6 655.0 685.0 C654.5 683.4 653.0 681.1 653.0 680.0 C653.0 678.9 654.2 678.0 655.0 678.0 C655.8 678.0 658.0 680.0 658.0 680.0 C658.0 680.0 659.1 676.6 659.0 675.0 C658.9 673.4 658.1 671.6 657.5 670.0 C656.9 668.4 656.2 666.4 655.0 665.0 C653.8 663.6 651.2 662.4 650.0 661.0 C648.8 659.6 648.9 657.1 647.5 656.0 C646.1 654.9 642.4 654.6 641.0 654.0 C639.6 653.4 638.8 652.0 638.8 652.0 Z" fill="#7fa3d1"/><g mask="url(#mk)"><path d="M435.0 326.0 C435.0 326.0 427.2 333.8 425.0 337.5 C422.8 341.2 422.4 345.4 421.0 349.0 C419.6 352.6 416.6 357.4 416.0 360.0 C415.4 362.6 418.9 362.8 417.5 365.0 C416.1 367.2 411.5 371.4 407.5 374.0 C403.5 376.6 396.1 378.8 392.5 381.0 C388.9 383.2 387.2 385.3 385.0 387.5 C382.8 389.7 379.0 395.0 379.0 395.0 C379.0 395.0 383.4 399.3 386.0 402.5 C388.6 405.7 392.4 410.6 395.0 415.0 C397.6 419.4 401.1 425.6 402.5 430.0 C403.9 434.4 404.4 437.7 404.0 442.5 C403.6 447.3 401.3 454.8 400.0 460.0 C398.7 465.2 397.0 470.6 396.0 475.0 C395.0 479.4 394.0 487.5 394.0 487.5 C394.0 487.5 402.3 490.0 405.0 491.0 C407.7 492.0 410.2 492.2 411.0 494.0 C411.8 495.8 411.8 499.1 410.0 502.5 C408.2 505.9 403.0 511.6 400.0 515.0 C397.0 518.4 393.0 520.8 391.0 524.0 C389.0 527.2 388.3 530.8 387.5 535.0 C386.7 539.2 386.6 546.0 386.0 550.0 C385.4 554.0 384.0 556.8 384.0 560.0 C384.0 563.2 385.4 566.8 386.0 570.0 C386.6 573.2 387.5 576.4 387.5 580.0 C387.5 583.6 384.0 589.7 386.0 592.5 C388.0 595.3 397.0 594.7 400.0 597.5 C403.0 600.3 403.4 606.4 405.0 610.0 C406.6 613.6 408.4 618.4 410.0 620.0 C411.6 621.6 415.0 620.0 415.0 620.0 C415.0 620.0 411.4 627.2 411.0 630.0 C410.6 632.8 411.1 635.9 412.5 637.5 C413.9 639.1 420.0 640.0 420.0 640.0 C420.0 640.0 419.1 646.8 417.5 650.0 C415.9 653.2 412.6 657.2 410.0 660.0 C407.4 662.8 402.6 665.5 401.0 667.5 C399.4 669.5 400.0 672.5 400.0 672.5 C400.0 672.5 410.2 673.4 415.0 674.0 C419.8 674.6 425.2 675.2 430.0 676.0 C434.8 676.8 441.0 679.0 445.0 679.0 C449.0 679.0 452.2 677.8 455.0 676.0 C457.8 674.2 460.7 670.9 462.5 667.5 C464.3 664.1 465.2 659.4 466.0 655.0 C466.8 650.6 467.7 644.8 467.5 640.0 C467.3 635.2 465.0 625.0 465.0 625.0 C465.0 625.0 471.8 623.7 475.0 622.5 C478.2 621.3 482.2 619.3 485.0 617.5 C487.8 615.7 490.5 612.0 492.5 611.0 C494.5 610.0 496.3 610.0 497.5 611.0 C498.7 612.0 499.2 614.6 500.0 617.5 C500.8 620.4 501.3 627.0 502.5 629.0 C503.7 631.0 505.9 627.8 507.5 630.0 C509.1 632.2 510.9 638.5 512.5 642.5 C514.1 646.5 515.7 651.0 517.5 655.0 C519.3 659.0 521.6 663.1 524.0 667.5 C526.4 671.9 530.7 678.1 532.5 682.5 C534.3 686.9 534.0 691.0 535.0 695.0 C536.0 699.0 540.6 704.1 539.0 707.5 C537.4 710.9 529.5 713.6 525.0 716.0 C520.5 718.4 515.0 720.3 511.0 722.5 C507.0 724.7 500.0 730.0 500.0 730.0 C500.0 730.0 503.4 733.8 505.0 736.0 C506.6 738.2 509.1 741.1 510.0 744.0 C510.9 746.9 510.6 754.0 510.6 754.0 C510.6 754.0 517.7 752.0 520.0 751.0 C522.3 750.0 524.4 749.1 525.0 747.5 C525.6 745.9 523.2 742.6 524.0 741.0 C524.8 739.4 527.0 736.9 530.0 737.5 C533.0 738.1 539.0 743.0 542.5 745.0 C546.0 747.0 549.8 748.8 552.0 750.0 C554.2 751.2 554.9 752.2 556.0 752.5 C557.1 752.8 557.6 751.9 559.0 752.0 C560.4 752.1 563.1 752.1 565.0 753.0 C566.9 753.9 569.6 756.2 571.0 757.5 C572.4 758.8 573.7 759.8 574.0 761.0 C574.3 762.2 573.8 763.7 573.0 765.0 C572.2 766.3 570.0 767.8 569.0 769.0 C568.0 770.2 566.8 771.5 567.0 772.5 C567.2 773.5 568.6 774.4 570.0 775.0 C571.4 775.6 574.6 775.3 576.0 776.0 C577.4 776.7 577.7 778.5 579.0 779.5 C580.3 780.5 582.6 781.3 584.0 782.0 C585.4 782.7 585.9 783.6 587.5 784.0 C589.1 784.4 592.0 784.7 594.0 784.5 C596.0 784.3 598.6 782.9 600.0 782.5 C601.4 782.1 601.5 781.6 602.5 782.0 C603.5 782.4 604.2 784.0 606.0 785.0 C607.8 786.0 612.2 787.0 614.0 788.0 C615.8 789.0 616.1 789.9 617.5 791.0 C618.9 792.1 621.7 794.0 622.5 795.0 C623.3 796.0 623.3 796.9 622.5 797.5 C621.7 798.1 619.3 798.2 617.5 799.0 C615.7 799.8 612.5 801.2 611.0 802.5 C609.5 803.8 608.0 805.8 608.0 807.0 C608.0 808.2 610.2 808.9 611.0 810.0 C611.8 811.1 612.8 812.6 613.0 814.0 C613.2 815.4 611.8 817.6 612.0 819.0 C612.2 820.4 613.0 821.9 614.0 822.5 C615.0 823.1 616.7 823.2 618.0 823.0 C619.3 822.8 620.9 821.6 622.0 821.0 C623.1 820.4 624.2 819.3 625.0 819.0 C625.8 818.7 627.0 819.0 627.0 819.0 C627.0 819.0 614.3 833.7 612.8 837.5 C611.2 841.3 617.2 840.5 617.2 842.5 C617.3 844.5 614.2 848.4 613.0 850.0 C611.8 851.6 611.7 850.1 610.0 852.5 C608.3 854.9 604.9 861.0 602.5 865.0 C600.1 869.0 597.4 874.3 595.0 877.5 C592.6 880.7 589.1 884.0 587.5 885.0 C585.9 886.0 587.0 882.6 585.0 884.0 C583.0 885.4 579.0 892.9 575.0 894.0 C571.0 895.1 563.6 892.8 560.0 891.0 C556.4 889.2 553.3 884.9 552.5 882.5 C551.7 880.1 555.8 878.4 555.0 876.0 C554.2 873.6 550.7 870.2 547.5 867.5 C544.3 864.8 539.4 861.8 535.0 859.0 C530.6 856.2 524.8 852.6 520.0 850.0 C515.2 847.4 509.8 844.5 505.0 842.5 C500.2 840.5 494.8 838.5 490.0 837.5 C485.2 836.5 479.8 835.6 475.0 836.0 C470.2 836.4 463.8 838.7 460.0 840.0 C456.2 841.3 453.0 842.4 451.0 844.0 C449.0 845.6 447.8 847.4 447.5 850.0 C447.2 852.6 448.2 856.4 449.0 860.0 C449.8 863.6 452.2 868.3 452.5 872.5 C452.8 876.7 451.0 886.0 451.0 886.0 C451.0 886.0 449.1 884.8 447.5 885.0 C445.9 885.2 441.8 885.5 441.0 887.5 C440.2 889.5 441.7 893.5 442.5 897.5 C443.3 901.5 446.4 908.9 446.0 912.5 C445.6 916.1 443.5 917.6 440.0 920.0 C436.5 922.4 426.6 924.3 424.0 927.5 C421.4 930.7 423.4 934.8 424.0 940.0 C424.6 945.2 426.1 954.2 427.5 960.0 C428.9 965.8 432.5 976.0 432.5 976.0 C432.5 976.0 416.0 984.5 416.0 984.5 C416.0 984.5 417.2 985.9 415.0 980.0 C412.8 974.1 406.5 957.9 402.5 947.5 C398.5 937.1 394.0 926.2 390.0 915.0 C386.0 903.8 381.3 889.5 377.5 877.5 C373.7 865.5 368.4 847.6 366.0 840.0 C363.6 832.4 364.1 838.0 362.5 830.0 C360.9 822.0 358.2 803.2 356.0 790.0 C353.8 776.8 351.6 762.3 349.0 747.5 C346.4 732.7 342.6 713.5 340.0 697.5 C337.4 681.5 334.9 663.5 332.5 647.5 C330.1 631.5 327.2 611.5 325.0 597.5 C322.8 583.5 320.8 568.8 319.0 560.0 C317.2 551.2 315.4 549.3 314.0 542.5 C312.6 535.7 311.0 525.1 310.0 517.5 C309.0 509.9 308.1 501.8 307.5 495.0 C306.9 488.2 305.8 482.2 306.0 475.0 C306.2 467.8 307.6 457.2 309.0 450.0 C310.4 442.8 312.4 436.4 315.0 430.0 C317.6 423.6 321.4 416.4 325.0 410.0 C328.6 403.6 333.5 396.0 337.5 390.0 C341.5 384.0 346.0 378.5 350.0 372.5 C354.0 366.5 358.5 359.3 362.5 352.5 C366.5 345.7 371.0 336.6 375.0 330.0 C379.0 323.4 387.5 311.0 387.5 311.0 C387.5 311.0 399.8 317.4 405.0 319.0 C410.2 320.6 416.4 319.9 420.0 321.0 C423.6 322.1 425.1 325.2 427.5 326.0 C429.9 326.8 435.0 326.0 435.0 326.0 Z" fill="none" stroke="#fff" stroke-width="2.2" stroke-linejoin="round"/><path d="M638.8 652.0 C638.8 652.0 643.0 652.4 645.0 653.0 C647.0 653.6 649.0 654.7 651.0 656.0 C653.0 657.3 655.7 659.2 657.5 661.0 C659.3 662.8 660.9 665.2 662.5 667.0 C664.1 668.8 665.9 671.4 667.5 672.5 C669.1 673.6 672.5 674.0 672.5 674.0 C672.5 674.0 673.0 671.0 673.0 671.0 C673.0 671.0 677.5 673.9 679.0 675.0 C680.5 676.1 682.2 676.4 682.5 678.0 C682.8 679.6 681.6 682.4 681.0 685.0 C680.4 687.6 679.8 691.4 679.0 694.0 C678.2 696.6 676.8 698.4 676.0 701.0 C675.2 703.6 675.0 707.4 674.0 710.0 C673.0 712.6 670.0 717.5 670.0 717.5 C670.0 717.5 673.2 717.6 675.0 718.0 C676.8 718.4 679.8 719.0 681.0 720.0 C682.2 721.0 682.3 722.0 682.5 724.0 C682.7 726.0 682.2 730.1 682.0 732.5 C681.8 734.9 681.5 739.0 681.5 739.0 C681.5 739.0 687.8 734.9 690.0 733.5 C692.2 732.1 692.0 732.5 695.0 730.5 C698.0 728.5 703.4 724.3 709.0 721.0 C714.6 717.7 723.8 713.4 730.0 710.0 C736.2 706.6 743.7 702.4 747.5 700.0 C751.3 697.6 751.6 697.3 754.0 695.0 C756.4 692.7 759.6 688.5 762.5 685.6 C765.4 682.7 772.0 677.0 772.0 677.0 C772.0 677.0 767.8 674.0 766.0 672.5 C764.2 671.0 762.6 668.9 761.0 667.5 C759.4 666.1 757.1 665.6 756.0 664.0 C754.9 662.4 754.3 660.5 754.0 657.5 C753.7 654.5 754.0 649.0 754.0 645.0 C754.0 641.0 753.9 634.9 754.0 632.5 C754.1 630.1 754.5 631.2 754.5 630.0 C754.5 628.8 754.3 626.7 754.0 625.0 C753.7 623.3 753.8 620.3 752.5 619.5 C751.2 618.7 748.0 620.2 746.0 620.0 C744.0 619.8 741.4 619.2 740.0 618.0 C738.6 616.8 737.2 614.4 737.0 612.5 C736.8 610.6 737.2 608.3 738.5 606.0 C739.8 603.7 742.8 600.2 745.0 598.0 C747.2 595.8 752.5 592.5 752.5 592.5 C752.5 592.5 748.9 590.9 748.0 589.5 C747.1 588.1 746.5 585.6 747.0 583.5 C747.5 581.4 749.6 578.7 751.0 576.5 C752.4 574.3 754.7 571.8 756.0 570.0 C757.3 568.2 758.9 567.4 759.4 565.0 C759.9 562.6 758.6 557.4 759.0 555.0 C759.4 552.6 762.0 551.4 762.0 550.0 C762.0 548.6 760.1 547.4 759.0 546.0 C757.9 544.6 755.0 541.0 755.0 541.0 C755.0 541.0 758.0 537.8 760.0 536.0 C762.0 534.2 765.9 532.4 767.5 530.0 C769.1 527.6 769.0 523.0 770.0 521.0 C771.0 519.0 773.2 519.1 774.0 517.5 C774.8 515.9 774.7 513.8 775.0 511.0 C775.3 508.2 775.6 503.0 776.0 500.0 C776.4 497.0 777.7 494.7 777.5 492.5 C777.3 490.3 775.8 488.2 775.0 486.0 C774.2 483.8 771.7 481.2 772.5 479.0 C773.3 476.8 777.8 473.6 780.0 472.5 C782.2 471.4 784.0 471.6 786.0 472.0 C788.0 472.4 790.3 474.1 792.5 475.0 C794.7 475.9 797.4 477.3 800.0 477.5 C802.6 477.7 806.6 477.0 809.0 476.0 C811.4 475.0 813.6 472.8 815.0 471.0 C816.4 469.2 817.6 467.2 818.0 465.0 C818.4 462.8 818.1 459.9 817.5 457.5 C816.9 455.1 815.4 452.4 814.0 450.0 C812.6 447.6 810.3 444.6 809.0 442.5 C807.7 440.4 806.0 437.0 806.0 437.0 C806.0 437.0 808.6 435.5 810.0 435.6 C811.4 435.7 813.4 436.4 815.0 437.5 C816.6 438.6 818.4 440.7 820.0 442.5 C821.6 444.3 823.6 446.8 825.0 449.0 C826.4 451.2 828.0 453.8 829.0 456.0 C830.0 458.2 830.4 460.7 831.0 462.5 C831.6 464.3 831.5 466.1 832.5 467.5 C833.5 468.9 834.7 469.8 837.5 471.0 C840.3 472.2 846.0 474.2 850.0 475.0 C854.0 475.8 858.9 476.2 862.5 476.0 C866.1 475.8 869.7 475.0 872.5 474.0 C875.3 473.0 877.8 471.0 880.0 470.0 C882.2 469.0 886.0 467.5 886.0 467.5 C886.0 467.5 889.5 476.5 889.5 476.5 C889.5 476.5 879.3 480.1 875.0 481.7 C870.7 483.3 866.1 485.1 862.5 486.5 C858.9 487.9 852.5 490.5 852.5 490.5 C852.5 490.5 851.5 488.4 851.0 487.5 C850.5 486.6 851.0 485.0 849.4 485.0 C847.8 485.0 843.7 486.3 841.0 487.5 C838.3 488.7 834.1 490.9 832.5 492.5 C830.9 494.1 830.6 496.1 831.0 497.5 C831.4 498.9 834.0 499.8 835.0 501.0 C836.0 502.2 836.9 502.4 837.0 505.0 C837.1 507.6 835.9 514.1 835.6 517.5 C835.3 520.9 835.5 523.6 835.0 526.0 C834.5 528.4 833.9 531.1 832.5 532.5 C831.1 533.9 827.7 534.0 826.0 535.0 C824.3 536.0 822.0 539.0 822.0 539.0 C822.0 539.0 826.2 539.9 827.5 541.0 C828.8 542.1 829.1 543.8 830.0 546.0 C830.9 548.2 832.8 552.4 833.0 555.0 C833.2 557.6 831.4 559.5 831.0 562.5 C830.6 565.5 830.8 570.2 830.6 574.0 C830.4 577.8 830.3 582.2 830.0 586.0 C829.7 589.8 828.8 595.3 829.0 597.5 C829.2 599.7 830.8 598.4 831.0 600.0 C831.2 601.6 830.8 605.3 830.0 607.5 C829.2 609.7 826.8 612.2 826.0 614.0 C825.2 615.8 824.8 617.6 825.0 619.0 C825.2 620.4 826.5 621.5 827.5 622.5 C828.5 623.5 830.6 624.0 831.0 625.0 C831.4 626.0 831.4 628.3 830.0 629.0 C828.6 629.7 824.5 628.8 822.5 629.4 C820.5 630.0 818.7 631.2 817.5 632.5 C816.3 633.8 815.0 635.7 815.0 637.5 C815.0 639.3 816.5 642.4 817.5 644.0 C818.5 645.6 819.8 646.9 821.0 647.5 C822.2 648.1 824.2 648.1 825.0 647.5 C825.8 646.9 826.0 644.0 826.0 644.0 C826.0 644.0 828.5 644.9 829.0 646.0 C829.5 647.1 828.3 649.6 829.4 651.0 C830.5 652.4 833.3 654.0 836.0 655.0 C838.7 656.0 843.4 656.7 846.0 657.5 C848.6 658.3 851.1 659.0 852.5 660.0 C853.9 661.0 854.8 662.2 855.0 664.0 C855.2 665.8 854.8 668.4 854.0 671.0 C853.2 673.6 851.3 677.1 850.0 680.0 C848.7 682.9 847.1 686.2 846.0 689.0 C844.9 691.8 843.5 695.9 843.0 697.5 C842.5 699.1 841.5 698.2 843.0 699.0 C844.5 699.8 848.6 700.9 852.5 702.5 C856.4 704.1 863.1 707.2 867.5 709.0 C871.9 710.8 876.6 712.6 880.0 714.0 C883.4 715.4 886.8 716.5 889.0 717.5 C891.2 718.5 892.2 720.2 894.0 720.0 C895.8 719.8 898.6 717.6 900.0 716.0 C901.4 714.4 901.1 711.9 902.5 710.0 C903.9 708.1 907.2 705.8 909.0 704.0 C910.8 702.2 913.0 700.8 914.0 699.0 C915.0 697.2 915.2 694.6 915.0 692.5 C914.8 690.4 912.1 688.0 912.5 686.0 C912.9 684.0 917.1 681.6 917.5 680.0 C917.9 678.4 916.2 677.6 915.0 676.0 C913.8 674.4 911.2 672.2 910.0 670.0 C908.8 667.8 907.5 664.7 907.5 662.5 C907.5 660.3 909.0 658.4 910.0 656.0 C911.0 653.6 913.0 650.5 914.0 647.5 C915.0 644.5 915.2 640.5 916.0 637.5 C916.8 634.5 918.0 631.8 919.0 629.0 C920.0 626.2 921.5 622.4 922.5 620.0 C923.5 617.6 923.8 614.8 925.0 614.0 C926.2 613.2 930.0 615.0 930.0 615.0 C930.0 615.0 928.5 617.8 927.5 620.0 C926.5 622.2 924.7 626.4 924.0 629.0 C923.3 631.6 922.4 634.2 923.0 636.0 C923.6 637.8 925.6 639.5 927.5 640.0 C929.4 640.5 932.8 639.4 935.0 639.0 C937.2 638.6 939.6 636.7 941.0 637.5 C942.4 638.3 943.2 642.0 944.0 644.0 C944.8 646.0 946.2 647.6 946.0 650.0 C945.8 652.4 944.1 656.8 942.5 659.0 C940.9 661.2 936.8 662.4 936.0 664.0 C935.2 665.6 936.5 667.2 937.5 669.0 C938.5 670.8 941.1 673.6 942.5 675.0 C943.9 676.4 945.2 676.7 946.0 677.5 C946.8 678.3 946.9 678.4 947.5 680.0 C948.1 681.6 949.9 684.7 950.0 687.5 C950.1 690.3 948.4 695.5 948.0 697.5 C947.6 699.5 947.3 697.4 947.5 700.0 C947.7 702.6 948.0 710.0 949.0 714.0 C950.0 718.0 952.4 721.5 954.0 725.0 C955.6 728.5 957.2 732.4 959.0 736.0 C960.8 739.6 962.8 743.8 965.0 747.5 C967.2 751.2 969.9 755.4 972.5 759.0 C975.1 762.6 978.2 767.0 981.0 770.0 C983.8 773.0 987.7 776.2 990.0 777.5 C992.3 778.8 995.6 778.0 995.6 778.0 C995.6 778.0 995.5 780.6 995.0 782.5 C994.5 784.4 992.8 787.2 992.5 790.0 C992.2 792.8 993.2 796.4 993.0 800.0 C992.8 803.6 992.1 808.9 991.0 812.5 C989.9 816.1 987.8 819.5 986.0 822.5 C984.2 825.5 981.8 829.2 980.0 831.0 C978.2 832.8 976.6 834.2 975.0 834.0 C973.4 833.8 972.0 830.8 970.0 830.0 C968.0 829.2 965.7 829.2 962.5 829.0 C959.3 828.8 954.0 829.0 950.0 829.0 C946.0 829.0 940.7 828.8 937.5 829.0 C934.3 829.2 931.6 829.2 930.0 830.0 C928.4 830.8 927.5 834.0 927.5 834.0 C927.5 834.0 926.4 833.8 925.0 832.5 C923.6 831.2 920.5 828.0 919.0 826.0 C917.5 824.0 915.6 821.6 915.6 820.0 C915.6 818.4 918.3 817.6 919.0 816.0 C919.7 814.4 920.2 812.2 920.0 810.0 C919.8 807.8 918.7 804.7 917.5 802.5 C916.3 800.3 914.3 797.6 912.5 796.0 C910.7 794.4 907.8 793.5 906.0 792.5 C904.2 791.5 902.1 791.0 901.0 790.0 C899.9 789.0 899.0 786.0 899.0 786.0 C899.0 786.0 895.4 788.4 894.0 789.0 C892.6 789.6 891.3 790.6 890.0 790.0 C888.7 789.4 886.6 786.6 886.0 785.0 C885.4 783.4 886.3 781.4 886.0 780.0 C885.7 778.6 885.4 776.6 884.0 776.0 C882.6 775.4 879.3 776.2 877.5 776.0 C875.7 775.8 873.7 776.0 872.5 775.0 C871.3 774.0 870.4 772.0 870.0 770.0 C869.6 768.0 869.7 764.7 870.0 762.5 C870.3 760.3 871.6 758.0 872.0 756.0 C872.4 754.0 872.8 751.7 872.5 750.0 C872.2 748.3 871.2 746.4 870.0 745.6 C868.8 744.8 866.2 744.7 865.0 745.0 C863.8 745.3 863.0 746.3 862.5 747.5 C862.0 748.7 862.2 750.5 862.0 752.5 C861.8 754.5 861.3 758.0 861.0 760.0 C860.7 762.0 860.3 763.4 860.0 765.0 C859.7 766.6 859.0 768.4 859.0 770.0 C859.0 771.6 859.2 773.0 860.0 775.0 C860.8 777.0 864.0 782.5 864.0 782.5 C864.0 782.5 860.8 781.4 859.0 781.0 C857.2 780.6 854.1 780.2 852.5 780.0 C850.9 779.8 849.8 779.5 849.0 780.0 C848.2 780.5 848.3 782.6 847.5 783.0 C846.7 783.4 845.6 783.0 844.0 782.5 C842.4 782.0 838.8 781.0 837.5 780.0 C836.2 779.0 836.6 777.2 835.6 776.0 C834.6 774.8 833.7 773.4 831.0 772.5 C828.3 771.6 822.4 770.9 819.0 770.6 C815.6 770.3 814.6 770.6 810.0 770.8 C805.4 771.0 796.4 771.5 790.0 772.0 C783.6 772.5 776.0 773.4 770.0 774.2 C764.0 775.0 758.3 776.1 752.5 777.0 C746.7 777.9 740.0 778.7 734.0 780.0 C728.0 781.3 721.1 783.0 715.0 785.0 C708.9 787.0 700.6 790.5 696.0 792.5 C691.4 794.5 689.4 795.8 686.0 797.5 C682.6 799.2 678.4 801.1 675.0 803.0 C671.6 804.9 668.7 807.1 665.0 809.5 C661.3 811.9 656.0 815.4 652.0 818.0 C648.0 820.6 642.9 824.0 640.0 826.0 C637.1 828.0 637.6 827.9 634.0 830.5 C630.4 833.1 617.2 842.5 617.2 842.5 C617.2 842.5 611.2 841.3 612.8 837.5 C614.3 833.7 622.6 824.4 627.0 819.0 C631.4 813.6 635.9 808.1 640.0 803.5 C644.1 798.9 649.6 793.4 652.5 790.0 C655.4 786.6 656.4 784.9 658.0 782.5 C659.6 780.1 661.5 777.4 662.5 775.0 C663.5 772.6 664.1 769.5 664.5 767.5 C664.9 765.5 665.0 762.5 665.0 762.5 C665.0 762.5 660.6 763.8 659.0 764.5 C657.4 765.2 656.1 765.6 655.0 767.0 C653.9 768.4 652.9 771.4 652.0 773.0 C651.1 774.6 649.6 775.9 649.5 777.0 C649.4 778.1 651.4 779.1 651.5 780.0 C651.6 780.9 650.0 782.5 650.0 782.5 C650.0 782.5 647.3 781.8 646.5 781.0 C645.7 780.2 645.5 779.0 645.0 777.5 C644.5 776.0 644.3 773.6 643.5 771.5 C642.7 769.4 640.9 766.3 640.0 764.5 C639.1 762.7 638.4 761.5 638.0 760.5 C637.6 759.5 637.2 758.7 637.5 758.0 C637.8 757.3 639.0 756.2 640.0 756.0 C641.0 755.8 643.5 757.0 643.5 757.0 C643.5 757.0 643.8 752.8 644.0 751.0 C644.2 749.2 644.5 747.5 644.5 746.0 C644.5 744.5 644.5 742.6 644.0 741.5 C643.5 740.4 642.0 740.0 641.5 739.0 C641.0 738.0 641.4 736.4 641.0 735.0 C640.6 733.6 639.6 731.2 639.0 730.0 C638.4 728.8 638.5 729.1 637.5 727.5 C636.5 725.9 634.3 722.4 632.5 720.0 C630.7 717.6 627.7 714.7 626.0 712.5 C624.3 710.3 622.2 707.9 622.0 706.0 C621.8 704.1 625.0 700.6 625.0 700.6 C625.0 700.6 627.8 701.4 629.0 702.5 C630.2 703.6 631.1 706.2 632.5 707.5 C633.9 708.8 635.9 710.2 637.5 710.6 C639.1 711.0 641.2 710.5 642.5 710.0 C643.8 709.5 645.2 709.3 645.6 707.5 C646.0 705.7 644.7 700.9 645.0 699.0 C645.3 697.1 646.1 696.4 647.5 695.6 C648.9 694.8 652.6 694.9 654.0 694.0 C655.4 693.1 655.8 691.4 656.0 690.0 C656.2 688.6 655.5 686.6 655.0 685.0 C654.5 683.4 653.0 681.1 653.0 680.0 C653.0 678.9 654.2 678.0 655.0 678.0 C655.8 678.0 658.0 680.0 658.0 680.0 C658.0 680.0 659.1 676.6 659.0 675.0 C658.9 673.4 658.1 671.6 657.5 670.0 C656.9 668.4 656.2 666.4 655.0 665.0 C653.8 663.6 651.2 662.4 650.0 661.0 C648.8 659.6 648.9 657.1 647.5 656.0 C646.1 654.9 642.4 654.6 641.0 654.0 C639.6 653.4 638.8 652.0 638.8 652.0 Z" fill="none" stroke="#fff" stroke-width="2.2" stroke-linejoin="round"/><g fill="none" stroke="#fff" stroke-width="2.2" stroke-linejoin="round" stroke-linecap="round"><path d="M509.0 455.0 C509.2 457.4 510.2 465.2 510.0 470.0 C509.8 474.8 507.5 481.8 507.5 485.0 C507.5 488.2 509.0 487.4 510.0 490.0 C511.0 492.6 513.6 497.6 514.0 501.0 C514.4 504.4 512.3 507.8 512.5 511.0 C512.7 514.2 514.2 518.3 515.0 521.0 C515.8 523.7 517.4 525.8 517.5 528.0 C517.6 530.2 515.4 531.9 515.6 535.0 C515.8 538.1 518.7 544.3 519.0 547.5 C519.3 550.7 518.0 552.2 517.5 555.0 C517.0 557.8 515.8 561.6 516.0 565.0 C516.2 568.4 518.8 573.0 519.0 576.0 C519.2 579.0 518.5 582.5 517.5 584.0 C516.5 585.5 514.5 585.1 512.5 585.6 C510.5 586.1 507.8 586.3 505.0 587.0 C502.2 587.7 497.4 588.9 495.0 590.0 C492.6 591.1 490.8 592.8 490.0 594.0 C489.2 595.2 489.2 595.9 490.0 597.5 C490.8 599.1 493.8 602.2 495.0 604.0 C496.2 605.8 497.1 608.2 497.5 609.0"/><path d="M510.0 440.0 L509.0 455.0"/><path d="M518.0 584.0 C516.3 584.3 510.4 585.2 507.5 586.0 C504.6 586.8 501.2 588.5 500.0 589.0"/><path d="M519.0 547.5 C519.6 548.9 522.0 553.6 523.0 556.0 C524.0 558.4 524.5 560.7 525.0 562.5 C525.5 564.3 526.4 565.9 526.0 567.5 C525.6 569.1 523.3 570.7 522.5 572.5 C521.7 574.3 520.6 576.6 521.0 579.0 C521.4 581.4 523.6 584.9 525.0 587.5 C526.4 590.1 528.6 592.6 530.0 595.0 C531.4 597.4 533.0 599.7 534.0 602.5 C535.0 605.3 535.7 609.3 536.0 612.5 C536.3 615.7 535.8 619.3 536.0 622.5 C536.2 625.7 536.2 629.3 537.0 632.5 C537.8 635.7 539.6 640.3 541.0 642.5 C542.4 644.7 546.0 646.0 546.0 646.0 C546.0 646.0 542.5 647.6 542.5 649.0 C542.5 650.4 544.6 652.6 546.0 655.0 C547.4 657.4 549.2 661.4 551.0 664.0 C552.8 666.6 554.9 669.1 557.5 671.0 C560.1 672.9 564.7 673.9 567.5 676.0 C570.3 678.1 573.0 681.4 575.0 684.0 C577.0 686.6 578.0 689.8 580.0 692.5 C582.0 695.2 585.1 698.2 587.5 701.0 C589.9 703.8 592.2 706.3 595.0 710.0 C597.8 713.7 601.4 719.0 605.0 724.0 C608.6 729.0 615.5 738.3 617.5 741.0"/><path d="M517.5 528.0 C519.3 526.9 525.2 522.0 529.0 521.0 C532.8 520.0 536.0 521.5 541.0 522.0 C546.0 522.5 555.4 524.2 560.0 524.0 C564.6 523.8 566.8 521.7 570.0 520.6 C573.2 519.5 577.4 517.5 580.0 517.0 C582.6 516.5 584.6 516.9 586.0 517.5 C587.4 518.1 588.7 519.4 589.0 521.0 C589.3 522.6 588.5 525.4 588.0 527.5 C587.5 529.6 585.9 531.2 585.6 534.0 C585.3 536.8 586.7 542.0 586.0 545.0 C585.3 548.0 581.8 550.5 581.0 552.5 C580.2 554.5 580.5 555.9 581.0 557.5 C581.5 559.1 583.4 560.5 584.0 562.5 C584.6 564.5 584.0 567.4 585.0 570.0 C586.0 572.6 588.4 576.4 590.0 579.0 C591.6 581.6 593.0 583.8 595.0 586.0 C597.0 588.2 600.3 590.3 602.5 592.5 C604.7 594.7 607.0 597.2 609.0 600.0 C611.0 602.8 612.8 607.2 615.0 610.0 C617.2 612.8 620.3 615.3 622.5 617.5 C624.7 619.7 627.8 622.4 629.0 624.0 C630.2 625.6 629.0 625.9 630.0 627.5 C631.0 629.1 633.0 632.0 635.0 634.0 C637.0 636.0 639.9 638.6 642.5 640.0 C645.1 641.4 648.6 641.6 651.0 643.0 C653.4 644.4 655.3 646.9 657.5 649.0 C659.7 651.1 663.0 653.6 665.0 656.0 C667.0 658.4 668.7 661.8 670.0 664.0 C671.3 666.2 672.5 669.0 673.0 670.0"/><path d="M650.0 475.0 C650.1 477.2 651.6 486.2 650.6 489.0 C649.6 491.8 646.1 491.4 644.0 492.5 C641.9 493.6 639.7 495.2 637.5 495.6 C635.3 496.0 632.4 494.7 630.0 495.0 C627.6 495.3 624.5 496.6 622.5 497.5 C620.5 498.4 618.5 499.4 617.5 500.6 C616.5 501.8 615.9 503.1 616.0 505.0 C616.1 506.9 617.2 510.1 618.0 512.5 C618.8 514.9 619.7 518.0 621.0 520.0 C622.3 522.0 624.6 523.6 626.0 525.0 C627.4 526.4 628.4 528.6 630.0 529.0 C631.6 529.4 634.2 527.7 636.0 527.5 C637.8 527.3 641.0 528.0 641.0 528.0 C641.0 528.0 639.2 532.5 640.0 534.0 C640.8 535.5 644.0 536.4 646.0 537.5 C648.0 538.6 650.4 539.4 652.5 540.6 C654.6 541.8 657.4 543.8 659.0 545.0 C660.6 546.2 661.1 547.8 662.5 548.0 C663.9 548.2 665.7 545.7 667.5 546.0 C669.3 546.3 671.2 549.4 674.0 550.0 C676.8 550.6 681.2 550.3 685.0 550.0 C688.8 549.7 693.5 548.2 697.5 548.0 C701.5 547.8 710.0 549.0 710.0 549.0 C710.0 549.0 710.2 540.0 710.0 536.0 C709.8 532.0 709.8 527.2 709.0 524.0 C708.2 520.8 706.3 518.6 705.0 516.0 C703.7 513.4 701.0 507.5 701.0 507.5 C701.0 507.5 705.0 505.6 706.0 504.0 C707.0 502.4 708.6 500.1 707.5 497.5 C706.4 494.9 701.4 490.7 699.0 487.5 C696.6 484.3 695.5 479.7 692.5 477.5 C689.5 475.3 683.6 474.0 680.0 474.0 C676.4 474.0 672.0 475.3 670.0 477.5 C668.0 479.7 667.5 484.3 667.5 487.5 C667.5 490.7 670.0 497.5 670.0 497.5 C670.0 497.5 667.2 497.1 666.0 496.0 C664.8 494.9 664.1 491.7 662.5 490.6 C660.9 489.5 657.9 489.3 656.0 489.0 C654.1 488.7 651.5 489.0 650.6 489.0"/><path d="M650.0 487.5 C650.0 485.5 649.2 479.0 650.0 475.0 C650.8 471.0 652.2 466.1 655.0 462.5 C657.8 458.9 664.6 455.5 667.5 452.5 C670.4 449.5 672.1 445.4 673.0 444.0"/><path d="M709.0 524.0 C711.6 524.0 720.0 524.5 725.0 524.0 C730.0 523.5 735.6 522.8 740.0 521.0 C744.4 519.2 748.9 515.7 752.5 512.5 C756.1 509.3 758.9 503.4 762.5 501.0 C766.1 498.6 773.2 499.7 775.0 497.5 C776.8 495.3 774.4 489.8 774.0 487.0 C773.6 484.2 772.7 481.1 772.5 480.0"/><path d="M630.0 529.0 C629.0 529.8 626.2 531.8 624.0 534.0 C621.8 536.2 617.8 540.3 616.0 542.5 C614.2 544.7 613.3 545.5 613.0 547.5 C612.7 549.5 614.5 552.4 614.0 555.0 C613.5 557.6 609.8 562.0 610.0 564.0 C610.2 566.0 613.4 566.9 615.0 567.5 C616.6 568.1 618.4 567.9 620.0 567.5 C621.6 567.1 623.2 565.2 625.0 565.0 C626.8 564.8 629.4 565.2 631.0 566.0 C632.6 566.8 634.5 568.7 635.0 570.0 C635.5 571.3 633.4 572.6 634.0 574.0 C634.6 575.4 637.2 577.2 639.0 579.0 C640.8 580.8 643.2 582.8 645.0 585.0 C646.8 587.2 649.0 590.3 650.0 592.5 C651.0 594.7 651.0 597.2 651.0 599.0 C651.0 600.8 649.0 602.2 650.0 604.0 C651.0 605.8 655.5 609.2 657.5 610.0 C659.5 610.8 661.1 608.4 662.5 609.0 C663.9 609.6 665.2 612.2 666.0 614.0 C666.8 615.8 666.5 618.1 667.5 620.0 C668.5 621.9 671.1 624.0 672.5 626.0 C673.9 628.0 675.4 631.5 676.0 632.5"/><path d="M699.0 550.0 C699.2 551.2 699.4 553.1 700.0 557.5 C700.6 561.9 702.5 577.5 702.5 577.5 C702.5 577.5 710.0 572.5 710.0 572.5 C710.0 572.5 707.8 579.3 709.0 582.5 C710.2 585.7 717.5 592.5 717.5 592.5 C717.5 592.5 714.3 595.9 712.5 597.5 C710.7 599.1 706.6 600.7 706.0 602.5 C705.4 604.3 707.2 607.8 709.0 609.0 C710.8 610.2 716.1 608.9 717.5 610.0 C718.9 611.1 718.0 616.0 718.0 616.0 C718.0 616.0 734.0 615.6 737.0 615.5"/><path d="M718.0 616.0 C715.9 616.2 708.3 616.2 705.0 617.0 C701.7 617.8 699.7 619.6 697.5 621.0 C695.3 622.4 692.8 624.7 691.0 626.0 C689.2 627.3 687.9 628.4 686.0 629.0 C684.1 629.6 680.6 629.4 679.0 630.0 C677.4 630.6 677.0 631.7 676.0 632.5 C675.0 633.3 674.7 634.5 672.5 635.0 C670.3 635.5 665.3 635.2 662.5 635.6 C659.7 636.0 656.2 636.6 655.0 637.5 C653.8 638.4 655.6 640.1 655.0 641.0 C654.4 641.9 651.6 642.7 651.0 643.0"/><path d="M711.0 617.5 C711.5 618.7 713.0 623.0 714.0 625.0 C715.0 627.0 716.7 626.8 717.5 630.0 C718.3 633.2 718.7 639.9 719.0 645.0 C719.3 650.1 719.3 659.3 719.4 662.0"/><path d="M686.0 629.0 C686.6 629.2 689.0 630.6 690.0 630.0 C691.0 629.4 691.3 626.4 692.5 625.0 C693.7 623.6 696.7 621.6 697.5 621.0"/><path d="M673.0 671.0 C673.3 670.8 673.9 669.8 675.0 670.0 C676.1 670.2 678.2 672.2 680.0 672.5 C681.8 672.8 684.0 672.4 686.0 672.0 C688.0 671.6 690.4 671.0 692.5 670.0 C694.6 669.0 697.0 667.0 699.0 666.0 C701.0 665.0 699.4 664.8 705.0 664.0 C710.6 663.2 728.8 660.8 734.0 661.0 C739.2 661.2 735.9 662.6 737.5 665.0 C739.1 667.4 742.3 672.8 744.0 676.0 C745.7 679.2 746.4 682.0 748.0 685.0 C749.6 688.0 753.0 693.4 754.0 695.0"/><path d="M705.0 664.0 C705.2 667.0 705.5 675.5 706.0 682.5 C706.5 689.5 707.4 701.2 708.0 707.5 C708.6 713.8 709.8 717.6 710.0 722.0 C710.2 726.4 709.4 730.9 709.4 735.0 C709.4 739.1 709.6 743.8 710.0 747.5 C710.4 751.2 711.6 754.0 712.0 758.0 C712.4 762.0 712.3 767.9 712.5 772.5 C712.7 777.1 712.9 784.7 713.0 787.0"/><path d="M709.0 721.0 C712.4 719.2 723.8 713.4 730.0 710.0 C736.2 706.6 743.7 702.4 747.5 700.0 C751.3 697.6 751.6 697.3 754.0 695.0 C756.4 692.7 759.6 688.5 762.5 685.6 C765.4 682.7 768.4 679.1 772.0 677.0 C775.6 674.9 782.0 673.5 785.0 672.5 C788.0 671.5 789.7 670.9 790.6 670.6"/><path d="M682.0 730.0 C682.0 731.4 681.7 736.6 681.8 739.0 C681.8 741.4 682.1 743.4 682.5 745.0 C682.9 746.6 684.4 747.6 684.0 749.0 C683.6 750.4 680.9 751.7 680.0 753.5 C679.1 755.3 678.6 757.8 678.5 760.0 C678.4 762.2 679.3 765.2 679.5 767.5 C679.7 769.8 679.4 773.2 680.0 774.5 C680.6 775.8 682.0 774.9 683.0 775.5 C684.0 776.1 684.9 777.6 686.0 778.5 C687.1 779.4 689.0 780.0 690.0 781.0 C691.0 782.0 691.5 783.1 692.5 785.0 C693.5 786.9 695.4 791.7 696.0 793.0"/><path d="M712.0 757.5 L754.0 741.5"/><path d="M747.5 700.0 C747.7 701.2 748.4 704.3 749.0 707.5 C749.6 710.7 750.5 716.4 751.0 720.0 C751.5 723.6 750.9 727.0 752.0 730.0 C753.1 733.0 758.0 739.0 758.0 739.0 C758.0 739.0 754.6 739.7 754.0 741.5 C753.4 743.3 753.7 746.2 754.5 750.0 C755.3 753.8 757.6 760.8 759.0 765.0 C760.4 769.2 762.4 774.2 763.0 776.0"/><path d="M762.5 685.6 C763.1 687.1 764.4 691.5 766.0 695.0 C767.6 698.5 770.4 703.5 772.5 707.5 C774.6 711.5 777.4 717.0 779.0 720.0 C780.6 723.0 780.3 725.6 782.5 726.0 C784.7 726.4 790.2 721.9 792.5 722.5 C794.8 723.1 795.3 727.2 797.0 730.0 C798.7 732.8 801.2 737.0 803.0 740.0 C804.8 743.0 808.5 749.0 808.5 749.0 C808.5 749.0 803.0 751.4 800.0 753.0 C797.0 754.6 791.8 757.6 790.0 759.0 C788.2 760.4 790.0 761.2 789.0 762.0 C788.0 762.8 785.1 763.0 784.0 764.0 C782.9 765.0 782.2 766.6 782.0 768.0 C781.8 769.4 782.8 772.2 783.0 773.0"/><path d="M808.5 749.0 C810.3 748.2 817.0 745.8 820.0 744.0 C823.0 742.2 825.4 740.2 827.0 738.0 C828.6 735.8 829.5 731.3 830.0 730.0"/><path d="M790.6 670.6 C789.7 671.3 786.4 673.3 785.0 675.0 C783.6 676.7 782.0 678.6 782.0 681.0 C782.0 683.4 783.7 687.6 785.0 690.0 C786.3 692.4 787.8 694.4 790.0 696.0 C792.2 697.6 795.6 698.4 799.0 700.0 C802.4 701.6 807.0 704.2 811.0 706.0 C815.0 707.8 820.6 710.5 824.0 711.0 C827.4 711.5 830.6 709.0 832.5 709.0 C834.4 709.0 835.4 710.7 836.0 711.0"/><path d="M752.5 619.5 C752.6 618.2 752.6 613.7 753.0 611.5 C753.4 609.3 753.9 607.8 755.0 606.0 C756.1 604.2 758.0 602.2 760.0 600.0 C762.0 597.8 765.4 594.7 767.5 592.5 C769.6 590.3 771.5 587.9 773.0 586.0 C774.5 584.1 777.0 580.5 777.0 580.5 C777.0 580.5 779.9 581.4 781.0 582.5 C782.1 583.6 783.5 585.7 784.0 587.5 C784.5 589.3 784.4 591.9 784.0 593.5 C783.6 595.1 782.4 596.5 781.5 597.5 C780.6 598.5 778.5 600.0 778.5 600.0 C778.5 600.0 781.0 601.4 782.5 602.0 C784.0 602.6 786.8 602.8 788.0 603.5 C789.2 604.2 788.9 605.7 790.0 606.5 C791.1 607.3 792.4 608.4 795.0 608.5 C797.6 608.6 802.8 607.4 806.0 607.0 C809.2 606.6 812.0 606.7 815.0 606.0 C818.0 605.3 822.4 603.8 825.0 602.5 C827.6 601.2 830.0 598.7 831.0 598.0"/><path d="M843.0 699.0 C842.5 700.1 841.3 703.4 840.0 706.0 C838.7 708.6 836.4 712.4 835.0 715.0 C833.6 717.6 832.0 720.3 831.0 722.5 C830.0 724.7 829.6 726.6 829.0 729.0 C828.4 731.4 828.9 734.9 827.5 737.5 C826.1 740.1 822.6 743.2 820.0 745.0 C817.4 746.8 812.8 748.4 811.0 749.0 C809.2 749.6 809.3 749.0 809.0 749.0"/><path d="M830.0 729.4 C830.6 729.2 832.2 728.2 834.0 728.0 C835.8 727.8 839.1 727.5 841.0 728.0 C842.9 728.5 844.6 729.1 846.0 731.0 C847.4 732.9 848.7 737.0 850.0 740.0 C851.3 743.0 853.4 746.0 854.0 750.0 C854.6 754.0 854.0 760.2 854.0 765.0 C854.0 769.8 854.0 777.6 854.0 780.0"/><path d="M894.0 720.6 C893.0 721.3 888.6 723.7 887.5 725.0 C886.4 726.3 886.6 727.6 887.0 729.0 C887.4 730.4 889.9 732.1 890.0 734.0 C890.1 735.9 887.9 738.4 887.5 741.0 C887.1 743.6 887.9 747.1 887.5 750.0 C887.1 752.9 886.4 756.6 885.0 759.0 C883.6 761.4 880.5 763.4 879.0 765.0 C877.5 766.6 875.8 767.8 875.6 769.0 C875.4 770.2 876.4 771.5 877.5 772.5 C878.6 773.5 881.1 774.2 882.5 775.0 C883.9 775.8 885.4 777.1 886.0 777.5"/><path d="M855.0 661.0 C856.2 661.0 860.1 660.2 862.5 661.0 C864.9 661.8 867.6 663.9 870.0 666.0 C872.4 668.1 874.9 671.4 877.5 674.0 C880.1 676.6 883.2 680.1 886.0 682.5 C888.8 684.9 892.0 687.3 895.0 689.0 C898.0 690.7 902.0 692.0 905.0 693.0 C908.0 694.0 912.6 694.7 914.0 695.0"/><path d="M852.5 659.0 C852.7 657.6 853.8 653.4 854.0 650.0 C854.2 646.6 854.5 640.5 854.0 637.5 C853.5 634.5 852.0 632.6 851.0 631.0 C850.0 629.4 848.6 629.4 847.5 627.5 C846.4 625.6 844.9 621.8 844.0 619.0 C843.1 616.2 842.2 613.0 842.0 610.0 C841.8 607.0 842.5 600.0 842.5 600.0 C842.5 600.0 842.1 609.2 842.0 611.0"/><path d="M851.0 631.0 C852.4 629.4 857.4 624.4 860.0 621.0 C862.6 617.6 865.5 613.4 867.5 610.0 C869.5 606.6 870.9 603.0 872.5 600.0 C874.1 597.0 875.7 594.2 877.5 591.0 C879.3 587.8 882.2 583.4 884.0 580.0 C885.8 576.6 887.9 573.2 889.0 570.0 C890.1 566.8 891.0 562.8 891.0 560.0 C891.0 557.2 889.2 554.9 889.0 552.5 C888.8 550.1 889.4 547.0 890.0 545.0 C890.6 543.0 892.0 541.6 892.5 540.0 C893.0 538.4 892.4 536.5 893.0 535.0 C893.6 533.5 896.0 530.6 896.0 530.6 C896.0 530.6 886.9 525.5 884.0 524.0 C881.1 522.5 878.0 521.0 878.0 521.0 C878.0 521.0 879.9 520.1 879.0 519.0 C878.1 517.9 874.7 516.1 872.5 514.0 C870.3 511.9 865.0 506.0 865.0 506.0 C865.0 506.0 871.0 501.0 871.0 501.0 C871.0 501.0 863.9 503.5 862.5 504.0"/><path d="M842.5 600.0 C843.1 598.4 844.4 593.2 846.0 590.0 C847.6 586.8 850.1 583.2 852.5 580.0 C854.9 576.8 858.6 572.8 861.0 570.0 C863.4 567.2 866.0 564.7 867.5 562.5 C869.0 560.3 870.4 557.8 870.6 556.0 C870.8 554.2 870.3 552.9 869.0 551.0 C867.7 549.1 864.7 546.6 862.5 544.0 C860.3 541.4 857.4 537.9 855.0 535.0 C852.6 532.1 849.3 528.8 847.5 526.0 C845.7 523.2 844.8 520.2 844.0 517.5 C843.2 514.8 842.3 511.4 842.5 509.0 C842.7 506.6 843.8 504.1 845.0 502.5 C846.2 500.9 849.0 500.4 850.0 499.0 C851.0 497.6 851.2 495.3 851.0 494.0 C850.8 492.7 849.3 491.5 849.0 491.0"/><path d="M892.5 540.0 C893.7 540.2 897.8 540.0 900.0 541.0 C902.2 542.0 904.2 545.2 906.0 546.0 C907.8 546.8 909.4 546.3 911.0 546.0 C912.6 545.7 916.0 544.0 916.0 544.0 C916.0 544.0 917.8 545.9 917.5 547.5 C917.2 549.1 914.8 551.8 914.0 554.0 C913.2 556.2 912.3 558.8 912.5 561.0 C912.7 563.2 913.6 565.7 915.0 567.5 C916.4 569.3 920.4 570.7 921.0 572.5 C921.6 574.3 919.0 577.0 919.0 579.0 C919.0 581.0 919.6 583.1 921.0 585.0 C922.4 586.9 925.9 589.0 927.5 591.0 C929.1 593.0 931.2 595.3 931.0 597.5 C930.8 599.7 927.0 602.6 926.0 605.0 C925.0 607.4 925.2 611.3 925.0 612.5"/><path d="M440.0 680.0 C440.0 681.6 440.4 687.0 440.0 690.0 C439.6 693.0 437.5 696.4 437.5 699.0 C437.5 701.6 440.6 703.0 440.0 706.0 C439.4 709.0 435.6 714.1 434.0 717.5 C432.4 720.9 430.6 724.5 430.0 727.5 C429.4 730.5 430.3 733.6 430.0 736.0 C429.7 738.4 427.8 739.5 428.0 742.5 C428.2 745.5 430.4 751.4 431.0 755.0 C431.6 758.6 431.0 761.8 432.0 765.0 C433.0 768.2 436.5 771.2 437.5 775.0 C438.5 778.8 436.8 786.0 438.0 789.0 C439.2 792.0 442.7 793.4 445.0 794.0 C447.3 794.6 450.5 792.2 452.5 792.5 C454.5 792.8 456.3 794.4 457.5 796.0 C458.7 797.6 459.4 800.3 460.0 802.5 C460.6 804.7 459.8 807.4 461.0 810.0 C462.2 812.6 464.9 816.2 467.5 819.0 C470.1 821.8 475.7 825.1 477.5 827.5 C479.3 829.9 479.0 832.0 479.0 834.0 C479.0 836.0 477.7 839.0 477.5 840.0"/><path d="M361.0 826.0 C363.1 825.8 370.2 825.6 374.0 825.0 C377.8 824.4 382.4 822.0 385.0 822.0 C387.6 822.0 388.0 825.5 390.0 825.0 C392.0 824.5 395.1 820.8 397.5 819.0 C399.9 817.2 402.9 816.1 405.0 814.0 C407.1 811.9 409.9 809.2 410.6 806.0 C411.3 802.8 409.5 797.2 409.4 794.0 C409.3 790.8 410.0 786.0 410.0 786.0 C410.0 786.0 414.4 788.1 416.0 788.0 C417.6 787.9 418.7 785.7 420.0 785.6 C421.3 785.5 422.6 787.9 424.0 787.5 C425.4 787.1 429.0 783.0 429.0 783.0 C429.0 783.0 428.6 784.0 430.0 785.0 C431.4 786.0 436.7 788.4 438.0 789.0"/><path d="M477.5 827.5 C478.5 827.1 482.2 826.2 484.0 825.0 C485.8 823.8 487.9 822.0 489.0 820.0 C490.1 818.0 489.9 814.5 491.0 812.5 C492.1 810.5 493.8 808.3 496.0 807.5 C498.2 806.7 502.6 806.7 505.0 807.5 C507.4 808.3 508.6 810.9 511.0 812.5 C513.4 814.1 517.0 816.3 520.0 817.5 C523.0 818.7 526.4 819.8 530.0 820.0 C533.6 820.2 538.7 819.4 542.5 819.0 C546.3 818.6 552.0 818.9 554.0 817.5 C556.0 816.1 555.2 812.8 555.0 810.0 C554.8 807.2 553.7 803.6 552.5 800.0 C551.3 796.4 549.5 790.7 547.5 787.5 C545.5 784.3 542.8 782.4 540.0 780.0 C537.2 777.6 531.4 774.3 530.0 772.5 C528.6 770.7 531.0 769.0 531.0 769.0 C531.0 769.0 537.4 769.7 540.0 770.0 C542.6 770.3 545.9 770.0 547.5 771.0 C549.1 772.0 549.6 775.2 550.0 776.0"/><path d="M580.0 766.0 C581.2 766.2 585.5 767.7 587.5 767.5 C589.5 767.3 590.7 766.0 592.5 765.0 C594.3 764.0 597.8 762.6 599.0 761.0 C600.2 759.4 600.5 756.4 600.0 755.0 C599.5 753.6 597.2 753.7 596.0 752.5 C594.8 751.3 592.5 747.5 592.5 747.5 C592.5 747.5 597.0 744.1 599.0 743.0 C601.0 741.9 602.0 740.8 605.0 740.6 C608.0 740.4 615.1 741.8 617.5 742.0 C619.9 742.2 618.4 742.4 620.0 742.0 C621.6 741.6 625.6 739.7 627.5 739.5 C629.4 739.3 630.6 739.8 632.0 740.5 C633.4 741.2 634.7 743.9 636.0 744.0 C637.3 744.1 639.1 741.7 640.0 741.0 C640.9 740.3 641.3 739.7 641.5 739.5"/><path d="M580.0 766.0 L574.0 761.0"/><path d="M550.0 776.0 C549.8 777.0 548.6 780.3 549.0 782.5 C549.4 784.7 552.5 790.0 552.5 790.0 C552.5 790.0 561.0 787.0 561.0 787.0 C561.0 787.0 562.2 792.4 563.0 795.0 C563.8 797.6 566.0 803.0 566.0 803.0 C566.0 803.0 570.7 799.2 572.5 797.5 C574.3 795.8 575.9 793.2 577.5 792.5 C579.1 791.8 580.9 793.4 582.5 793.0 C584.1 792.6 585.5 790.3 587.5 790.0 C589.5 789.7 592.6 791.0 595.0 791.0 C597.4 791.0 600.8 790.6 602.5 790.0 C604.2 789.4 605.0 788.3 605.6 787.5 C606.2 786.7 605.9 785.4 606.0 785.0"/><path d="M617.2 842.5 C616.5 841.7 611.2 841.3 612.8 837.5 C614.3 833.7 622.6 824.4 627.0 819.0 C631.4 813.6 635.9 808.1 640.0 803.5 C644.1 798.9 649.6 793.4 652.5 790.0 C655.4 786.6 656.4 784.9 658.0 782.5 C659.6 780.1 661.5 777.4 662.5 775.0 C663.5 772.6 663.9 769.6 664.5 767.5 C665.1 765.4 665.7 763.5 666.0 762.0 C666.3 760.5 666.5 759.1 666.5 758.0 C666.5 756.9 665.7 756.1 665.8 755.0 C665.8 753.9 666.3 752.2 667.0 751.0 C667.7 749.8 668.7 748.8 670.0 747.5 C671.3 746.2 673.2 744.4 675.0 743.0 C676.8 741.6 679.1 740.5 681.5 739.0 C683.9 737.5 687.8 734.9 690.0 733.5 C692.2 732.1 692.0 732.5 695.0 730.5 C698.0 728.5 706.8 722.5 709.0 721.0"/><path d="M422.5 1015.0 C426.9 1013.0 441.6 1006.1 450.0 1002.5 C458.4 998.9 468.6 995.7 475.0 992.5 C481.4 989.3 484.8 986.5 490.0 982.5 C495.2 978.5 501.9 972.3 507.5 967.5 C513.1 962.7 520.8 956.5 525.0 952.5 C529.2 948.5 533.2 945.1 534.0 942.5 C534.8 939.9 530.5 938.0 530.0 936.0 C529.5 934.0 529.8 931.8 531.0 930.0 C532.2 928.2 535.3 925.8 537.5 925.0 C539.7 924.2 543.2 924.4 545.0 925.0 C546.8 925.6 547.4 928.8 549.0 929.0 C550.6 929.2 552.4 925.7 555.0 926.0 C557.6 926.3 562.4 930.4 565.0 931.0 C567.6 931.6 569.0 929.4 571.0 930.0 C573.0 930.6 575.9 933.9 577.5 934.5 C579.1 935.1 580.4 934.1 581.0 934.0"/><path d="M449.0 889.0 C450.8 890.4 456.2 894.9 460.0 897.5 C463.8 900.1 470.1 901.8 472.5 905.0 C474.9 908.2 473.8 913.5 475.0 917.5 C476.2 921.5 478.4 926.0 480.0 930.0 C481.6 934.0 485.0 942.5 485.0 942.5 C485.0 942.5 495.2 938.3 500.0 937.5 C504.8 936.7 509.8 936.9 515.0 937.5 C520.2 938.1 529.7 940.4 532.5 941.0"/></g></g><g stroke="#4d4d4d" stroke-width="0.9" fill="none"><line x1="202" y1="283" x2="357.5" y2="409.5"/><line x1="366" y1="284" x2="692.5" y2="651"/><line x1="503" y1="284" x2="676.5" y2="584"/><line x1="655" y1="297" x2="674.5" y2="519.5"/><line x1="792" y1="278" x2="732.5" y2="553"/><line x1="938" y1="281" x2="935" y2="358"/><line x1="859" y1="347" x2="818" y2="502"/><line x1="1035" y1="338" x2="859" y2="520.5"/><line x1="1047" y1="427" x2="848" y2="546"/><line x1="1098" y1="453" x2="738" y2="647"/><line x1="1098" y1="514" x2="897.5" y2="613"/><line x1="1098" y1="571" x2="731.5" y2="691.5"/><line x1="1024" y1="638" x2="814" y2="681"/><line x1="1098" y1="697" x2="883.5" y2="698.5"/><line x1="1098" y1="758" x2="867" y2="724.5"/><line x1="1098" y1="836" x2="948.5" y2="761"/><line x1="1044" y1="866" x2="815" y2="721"/><line x1="950" y1="866" x2="837" y2="758"/><line x1="922" y1="945" x2="773" y2="743.5"/><line x1="810" y1="826" x2="738.5" y2="728.5"/><line x1="773" y1="891" x2="735" y2="767"/><line x1="725" y1="945" x2="696" y2="760"/><line x1="665" y1="866" x2="665" y2="796.5"/><line x1="640" y1="995" x2="572" y2="843"/><line x1="593" y1="1069" x2="511.5" y2="885"/><line x1="390" y1="1106" x2="500" y2="1045"/><line x1="358" y1="1031" x2="466" y2="977"/><line x1="304" y1="936" x2="412.5" y2="857.5"/><line x1="266" y1="840" x2="616" y2="760.5"/><line x1="238" y1="752" x2="654" y2="718"/><line x1="234" y1="666" x2="693" y2="694"/><line x1="232" y1="601" x2="489" y2="666"/><line x1="235" y1="521" x2="521.5" y2="623.5"/><line x1="221" y1="421" x2="590.5" y2="630"/></g><g fill="#544d49"><circle cx="357.5" cy="409.5" r="3.1"/><circle cx="692.5" cy="651" r="3.1"/><circle cx="676.5" cy="584" r="3.1"/><circle cx="674.5" cy="519.5" r="3.1"/><circle cx="732.5" cy="553" r="3.1"/><circle cx="935" cy="358" r="3.1"/><circle cx="818" cy="502" r="3.1"/><circle cx="859" cy="520.5" r="3.1"/><circle cx="848" cy="546" r="3.1"/><circle cx="738" cy="647" r="3.1"/><circle cx="897.5" cy="613" r="3.1"/><circle cx="731.5" cy="691.5" r="3.1"/><circle cx="814" cy="681" r="3.1"/><circle cx="883.5" cy="698.5" r="3.1"/><circle cx="867" cy="724.5" r="3.1"/><circle cx="948.5" cy="761" r="3.1"/><circle cx="815" cy="721" r="3.1"/><circle cx="837" cy="758" r="3.1"/><circle cx="773" cy="743.5" r="3.1"/><circle cx="738.5" cy="728.5" r="3.1"/><circle cx="735" cy="767" r="3.1"/><circle cx="696" cy="760" r="3.1"/><circle cx="665" cy="796.5" r="3.1"/><circle cx="572" cy="843" r="3.1"/><circle cx="511.5" cy="885" r="3.1"/><circle cx="500" cy="1045" r="3.1"/><circle cx="466" cy="977" r="3.1"/><circle cx="412.5" cy="857.5" r="3.1"/><circle cx="616" cy="760.5" r="3.1"/><circle cx="654" cy="718" r="3.1"/><circle cx="693" cy="694" r="3.1"/><circle cx="489" cy="666" r="3.1"/><circle cx="521.5" cy="623.5" r="3.1"/><circle cx="590.5" cy="630" r="3.1"/></g></svg>
<div class="ln" style="left:67px;top:220.3px">Saint-Isidore-<br>Lingostière</div><div class="bx" style="left:131px;top:256.3px">4 722 €</div><div class="ln" style="left:230px;top:237.7px">Mantega</div><div class="bx" style="left:295px;top:257.2px">4 249 €</div><div class="ln" style="left:400px;top:238.1px">Saint-Sylvestre</div><div class="bx" style="left:465px;top:257.6px">3 955 €</div><div class="ln" style="left:554px;top:251.25px">Le Ray</div><div class="bx" style="left:618.25px;top:270.75px">3 305 €</div><div class="ln" style="left:692px;top:231.8px">Saint-Maurice</div><div class="bx" style="left:757px;top:251.3px">4 267 €</div><div class="ln" style="left:838px;top:235px">Ariane</div><div class="bx" style="left:903px;top:254.5px">1 458 €</div><div class="ln" style="left:755px;top:301px">Rimiez</div><div class="bx" style="left:819.25px;top:320.5px">4 974 €</div><div class="ln" style="left:931px;top:291.8px">Roquebillière</div><div class="bx" style="left:997px;top:311.3px">2 830 €</div><div class="ln" style="left:948px;top:381.8px">Pasteur</div><div class="bx" style="left:1013.75px;top:401.3px">2 948 €</div><div class="ln" style="left:1034px;top:419.75px">Libération</div><div class="bx" style="left:1098.25px;top:439.25px">4 444 €</div><div class="ln" style="left:1034px;top:480.8px">Saint-Roch</div><div class="bx" style="left:1098.25px;top:500.3px">3 921 €</div><div class="ln" style="left:1033px;top:538.3px">Vernier</div><div class="bx" style="left:1098.25px;top:557.8px">3 943 €</div><div class="ln" style="left:958px;top:605.1px">Cimiez</div><div class="bx" style="left:1024px;top:624.6px">5 361 €</div><div class="ln" style="left:1033px;top:664.5px">Riquier</div><div class="bx" style="left:1098.25px;top:684px">4 444 €</div><div class="ln" style="left:1032px;top:725.6px">Le Port</div><div class="bx" style="left:1098.25px;top:745.1px">5 429 €</div><div class="ln" style="left:1032px;top:803.1px">Mont Boron</div><div class="bx" style="left:1098.25px;top:822.6px">7 279 €</div><div class="ln" style="left:944px;top:868.75px">Carabacel</div><div class="bx" style="left:1007.6px;top:888.25px">5 153 €</div><div class="ln" style="left:848px;top:868.75px">Vieille Ville</div><div class="bx" style="left:913.75px;top:888.25px">5 556 €</div><div class="ln" style="left:822px;top:947.75px">Médecin</div><div class="bx" style="left:887.25px;top:967.25px">6 000 €</div><div class="ln" style="left:710px;top:828.8px">Thiers</div><div class="bx" style="left:775.75px;top:848.3px;width:68px;box-sizing:border-box;padding-left:5.8px">5 530 €</div><div class="ln" style="left:685px;top:893.8px">Rue de France</div><div class="bx" style="left:749px;top:913.3px">7 034 €</div><div class="ln" style="left:627px;top:947.75px">Gambetta</div><div class="bx" style="left:691.5px;top:967.25px">5 270 €</div><div class="ln" style="left:562px;top:868.75px">Baumettes</div><div class="bx" style="left:625px;top:888.25px">5 432 €</div><div class="ln" style="left:541px;top:997.8px">Fabron</div><div class="bx" style="left:607px;top:1017.3px">5 235 €</div><div class="ln" style="left:493px;top:1072.8px">Caucade</div><div class="bx" style="left:558.2px;top:1092.3px">4 681 €</div><div class="ln" style="left:255px;top:1072.8px">L’Arénas</div><div class="bx" style="left:319px;top:1092.3px">3 393 €</div><div class="ln" style="left:222px;top:997.9px">Saint-Augustin</div><div class="bx" style="left:287px;top:1017.4px">3 505 €</div><div class="ln" style="left:170px;top:887px">Sainte-<br>Marguerite</div><div class="bx" style="left:233.25px;top:923px">4 857 €</div><div class="ln" style="left:128px;top:806.9px">Madeleine</div><div class="bx" style="left:194.5px;top:826.4px">4 184 €</div><div class="ln" style="left:102px;top:720.5px">Saint-Philippe</div><div class="bx" style="left:167.4px;top:740px">4 811 €</div><div class="ln" style="left:97px;top:633.8px">Le Piol</div><div class="bx" style="left:163px;top:653.3px">4 233 €</div><div class="ln" style="left:96px;top:555.5px">Saint-Antoine</div><div class="bx" style="left:160.8px;top:575px">5 524 €</div><div class="ln" style="left:100px;top:475px">Ventabrun</div><div class="bx" style="left:164px;top:494.5px">3 243 €</div><div class="ln" style="left:87px;top:359px">Saint-Pierre-<br>de-Féric</div><div class="bx" style="left:150.2px;top:395px">4 574 €</div>
<div class="vl" style="left:1239.2px;top:162px;height:957px"></div>
<div class="h2" style="left:1260px;width:640px;top:160.75px;transform:scaleX(1.0540);">RENTABILITÉ LOCATIVE À NICE</div>
<svg class="map" width="1920" height="1200" viewBox="0 0 1920 1200"><path d="M1355.57 274.32 L1355.57 228.28 A4.88 4.88 0 0 1 1365.19 228.28 L1365.19 274.73" fill="none" stroke="#0b4a9c" stroke-width="1.5"/><path d="M1365.19 272.97 A4.88 4.88 0 1 0 1360.31 279.06" fill="none" stroke="#0b4a9c" stroke-width="1.5"/><path d="M1368.44 229.64 L1407.44 229.64 A2.98 2.98 0 0 1 1410.69 232.89 L1410.69 275.81 A2.98 2.98 0 0 1 1407.44 279.06 L1360.31 279.06" fill="none" stroke="#0b4a9c" stroke-width="1.5"/><path d="M1370.74 235.19 L1405.00 235.19 L1405.00 272.97 L1393.49 272.97 M1370.74 235.19 L1370.74 272.97 L1389.83 272.97 M1389.70 235.19 L1389.70 243.18 M1389.70 251.30 L1389.70 256.04 L1370.74 256.04 M1398.23 256.04 L1405.00 256.04 M1399.58 263.49 L1399.58 269.58" fill="none" stroke="#e21d3b" stroke-width="1.5"/><path d="M1389.83 272.97 A9.75 9.75 0 0 1 1399.58 263.49" fill="none" stroke="#e21d3b" stroke-width="1.5"/><path d="M1532.02 278.39 L1532.02 224.90 A2.03 2.03 0 0 1 1536.08 224.90 L1536.08 278.39" fill="none" stroke="#0b4a9c" stroke-width="1.5"/><path d="M1536.08 228.96 L1585.10 228.96 M1547.86 228.96 L1547.86 234.38 M1575.62 228.96 L1575.62 234.38 M1528.23 279.06 L1542.72 279.06 M1547.19 279.06 L1558.29 279.06 M1562.08 279.06 L1565.33 279.06 M1567.77 279.06 L1585.10 279.06" fill="none" stroke="#0b4a9c" stroke-width="1.5"/><rect x="1541.77" y="234.38" width="39.27" height="27.08" rx="4.06" fill="none" stroke="#0b4a9c" stroke-width="1.5"/><path d="M1564.11 242.23 L1571.83 242.23 M1564.11 247.92 L1575.22 247.92 M1564.11 253.60 L1573.86 253.60" fill="none" stroke="#0b4a9c" stroke-width="1.5"/><path d="M1547.46 246.83 L1554.50 240.06 L1561.54 246.83 M1549.49 246.83 L1549.49 253.88 L1559.38 253.88 L1559.38 246.83 M1554.50 253.88 L1554.50 250.35" fill="none" stroke="#e21d3b" stroke-width="1.7" stroke-linejoin="miter"/><path d="M1655.21 254.96 L1682.56 227.60 L1710.46 254.96 M1655.21 254.96 L1655.21 231.12 L1666.04 231.12 L1666.04 226.79 L1664.01 226.79 L1664.01 223.81 L1672.54 223.81 L1672.54 226.79 L1670.38 226.79 L1670.38 231.12 L1673.49 231.12 M1691.77 231.12 L1710.46 231.12 L1710.46 254.96 M1658.59 256.04 L1658.59 263.76 M1664.69 263.76 L1664.69 256.85 L1672.14 256.85 L1672.14 263.76 M1677.55 263.76 L1677.55 256.85 L1686.35 256.85" fill="none" stroke="#0b4a9c" stroke-width="1.5" stroke-linejoin="miter"/><circle cx="1682.56" cy="241.82" r="2.98" fill="none" stroke="#0b4a9c" stroke-width="1.5"/><path d="M1654.53 267.55 L1668.07 267.55 M1675.52 267.55 L1683.65 267.55 M1654.53 270.53 L1668.07 270.53 M1675.52 270.53 L1683.65 270.53 M1654.53 273.38 L1668.07 273.38 M1675.52 273.38 L1683.65 273.38 M1654.53 276.35 L1668.07 276.35 M1675.52 276.35 L1683.65 276.35 M1654.53 279.33 L1687.71 279.33 M1672.14 267.55 L1672.14 279.33" fill="none" stroke="#0b4a9c" stroke-width="1.5"/><circle cx="1698.14" cy="266.88" r="11.92" fill="#fff" stroke="#0b4a9c" stroke-width="1.5"/><text x="1697.84" y="271.68" text-anchor="middle" font-family="Liberation Sans, sans-serif" font-weight="bold" font-size="14" fill="#e21d3b">€</text><path d="M1799.43 222.46 L1799.43 233.29 M1795.09 227.33 L1803.90 227.33" fill="none" stroke="#e21d3b" stroke-width="1.7"/><path d="M1795.36 249.27 L1792.66 239.11 L1794.69 237.08 L1799.43 236.41 L1804.17 237.08 L1806.20 239.11 L1803.49 249.27 M1792.66 249.54 L1806.20 249.54 M1794.69 252.25 L1804.17 252.25 M1795.64 252.25 L1790.90 273.65 M1803.22 252.25 L1807.96 273.65 M1790.22 276.35 L1808.64 276.35" fill="none" stroke="#0b4a9c" stroke-width="1.5" stroke-linejoin="round"/><rect x="1788.59" y="276.35" width="21.67" height="2.98" rx="1" fill="none" stroke="#0b4a9c" stroke-width="1.5"/><path d="M1777.08 251.71 A5.69 5.69 0 1 1 1785.21 251.71" fill="none" stroke="#0b4a9c" stroke-width="1.5"/><path d="M1775.73 256.31 L1786.56 256.31 M1777.76 253.60 L1784.53 253.60 M1777.76 256.31 L1773.02 273.65 M1784.53 256.31 L1787.65 267.55" fill="none" stroke="#0b4a9c" stroke-width="1.5"/><path d="M1771.26 276.35 L1785.89 276.35 M1771.26 279.33 L1785.89 279.33 M1771.26 276.35 L1771.26 279.33" fill="none" stroke="#0b4a9c" stroke-width="1.5"/><path d="M1813.65 251.71 A5.69 5.69 0 1 1 1821.77 251.71" fill="none" stroke="#0b4a9c" stroke-width="1.5"/><path d="M1812.29 256.31 L1823.12 256.31 M1814.32 253.60 L1821.09 253.60 M1814.32 256.31 L1811.21 267.55 M1821.09 256.31 L1825.83 273.65" fill="none" stroke="#0b4a9c" stroke-width="1.5"/><path d="M1812.97 276.35 L1827.86 276.35 M1812.97 279.33 L1827.86 279.33 M1827.86 276.35 L1827.86 279.33" fill="none" stroke="#0b4a9c" stroke-width="1.5"/><path d="M42.25 1085.00 L42.25 1060.62 L54.00 1060.62 L54.00 1085.00 M35.25 1082.50 L35.25 1066.50 L41.50 1066.50 M55.00 1065.88 L60.62 1065.88 L60.62 1085.00 M41.25 1085.00 L61.25 1085.00 M45.62 1085.00 L45.62 1078.75 L51.25 1078.75 L51.25 1085.00" fill="none" stroke="#2f62ad" stroke-width="0.9"/><g fill="none" stroke="#2f62ad" stroke-width="0.8"><rect x="45.00" y="1063.12" width="1.6" height="2.6" rx="0.5"/><rect x="49.75" y="1063.12" width="1.6" height="2.6" rx="0.5"/><rect x="45.00" y="1068.75" width="1.6" height="2.6" rx="0.5"/><rect x="49.75" y="1068.75" width="1.6" height="2.6" rx="0.5"/><rect x="45.00" y="1074.00" width="1.6" height="2.6" rx="0.5"/><rect x="49.75" y="1074.00" width="1.6" height="2.6" rx="0.5"/><rect x="37.88" y="1068.75" width="1.6" height="2.6" rx="0.5"/><rect x="37.88" y="1074.00" width="1.6" height="2.6" rx="0.5"/><rect x="56.50" y="1068.75" width="1.6" height="2.6" rx="0.5"/><rect x="56.50" y="1074.00" width="1.6" height="2.6" rx="0.5"/><rect x="56.50" y="1079.50" width="1.6" height="2.6" rx="0.5"/></g><ellipse cx="37.38" cy="1080.00" rx="1.5" ry="3" fill="none" stroke="#e21d3b" stroke-width="0.8"/><path d="M37.38 1081.88 L37.38 1085.38" stroke="#e21d3b" stroke-width="0.8" fill="none"/><path d="M36.25 1105.88 L48.75 1094.00 L60.00 1105.88 M40.38 1102.50 L40.38 1118.25 L56.62 1118.25 L56.62 1103.12 M52.25 1096.88 L52.25 1095.00 L55.62 1095.00 L55.62 1101.00 M40.38 1110.00 L56.62 1110.00 M43.12 1118.25 L43.12 1111.25 L45.62 1111.25 L45.62 1118.25 M46.88 1110.00 L46.88 1103.12 L52.75 1103.12 L52.75 1110.00 M52.75 1118.25 L52.75 1110.00 M43.12 1113.75 L45.62 1113.75 M43.12 1116.00 L45.62 1116.00" fill="none" stroke="#2f62ad" stroke-width="0.9"/></svg>
<div class="ch" style="left:1282.5px;top:293.7px">Surface</div>
<div class="ch" style="left:1457px;top:292.7px">Prix<br>d’acquisition</div>
<div class="ch" style="left:1582.5px;top:292.7px">Loyer<br>mensuel</div>
<div class="ch" style="left:1699px;top:292.7px">Rentabilité<br>brute</div>
<div class="hl" style="left:1285px;top:342.2px;width:571.5px"></div>
<div class="ch" style="left:1282px;top:356.2px">T3 neuf de 66 m<sup>2</sup><br>dans le quartier<br>Saint-Roch</div>
<div class="ch" style="left:1457.5px;top:356.2px">349 000 €<br>(hors<br>stationnement)</div>
<div class="ch" style="left:1582.5px;top:375.7px">1 000 €</div>
<div class="ch blue" style="left:1699px;top:375.7px">3,4%</div>
<div class="hl" style="left:1285px;top:425.2px;width:571.5px"></div>
<div class="ch" style="left:1281px;top:437.7px;white-space:nowrap">T3 neuf de 61,58 m<sup>2</sup><br>dans le quartier ouest,<br>proche de l’aéroport</div>
<div class="ch" style="left:1457.5px;top:437.7px">370 350 €<br>(hors<br>stationnement)</div>
<div class="ch" style="left:1582.5px;top:459.7px">1 000 €</div>
<div class="ch blue" style="left:1699px;top:459.7px">3,2%</div>
<div class="vl" style="left:1871.7px;top:491.5px;height:36px"></div>
<div class="hl" style="left:1810px;top:526.7px;width:63.3px"></div>
<div class="h2" style="left:1257.5px;width:640px;top:590px;transform:scaleX(1.0425);">PRIX DES APPARTEMENTS NEUFS</div><div class="h2" style="left:1261.5px;width:640px;top:624.625px;transform:scaleX(1.0496);">AU M² MÉDIAN À NICE</div>
<div class="vl" style="left:1646.7px;top:691.5px;height:372.5px"></div>
<div class="tn" style="top:694.5px">Médecin</div><div class="tv" style="top:694.5px">10 450 €</div><div class="tn" style="top:740px">Riquier</div><div class="tv" style="top:740px">7 225 €</div><div class="tn" style="top:787.5px">L’Arénas</div><div class="tv" style="top:787.5px">7 279 €</div><div class="tn" style="top:835px">Sainte-Marguerite</div><div class="tv" style="top:835px">5 512 €</div><div class="tn" style="top:882.5px">Saint-Roch</div><div class="tv" style="top:882.5px">6 140 €</div><div class="tn" style="top:930px">Saint-Isidore-Lingostière</div><div class="tv" style="top:930px">5 175 €</div><div class="tn" style="top:977.5px">Pasteur</div><div class="tv" style="top:977.5px">4 486 €</div><div class="tn" style="top:1026.5px">Saint-Sylvestre</div><div class="tv" style="top:1026.5px">5 865 €</div><div class="hl" style="left:1403px;top:729.25px;width:366.5px"></div><div class="hl" style="left:1403px;top:775.25px;width:366.5px"></div><div class="hl" style="left:1403px;top:823.75px;width:366.5px"></div><div class="hl" style="left:1403px;top:872.75px;width:366.5px"></div><div class="hl" style="left:1403px;top:918.25px;width:366.5px"></div><div class="hl" style="left:1403px;top:965.25px;width:366.5px"></div><div class="hl" style="left:1403px;top:1013.75px;width:366.5px"></div>
<div class="vl" style="left:1387.2px;top:1016px;height:63px"></div>
<div class="hl" style="left:1387.2px;top:1078.2px;width:38px"></div>
<div class="h2" style="left:15.5px;width:200px;top:1019.15px;transform:scaleX(1.0883);font-size:17.3px;letter-spacing:.5px;-webkit-text-stroke:.9px #0b4a9c;">LÉGENDE</div>
<div class="leg" style="top:1059px;background:#e21d3b">Appartement ancien</div>
<div class="leg" style="top:1089px;background:#0b4a9c">Maison ancienne</div>
<svg class="map" width="1920" height="1200" viewBox="0 0 1920 1200"><g transform="translate(20,1145) scale(0.08333)"><polygon points="160,385 240,205 335,205 378,385 322,385 293,255 270,255 215,385" fill="#0b4a9c"/><path d="M232,338 Q262,378 312,322 Q272,352 232,338 Z" fill="#e2001a" stroke="#e2001a" stroke-width="12" stroke-linejoin="round"/><path d="M388,385 L388,205 L522,205 L522,250 L442,250 L442,276 L508,276 L508,318 L442,318 L442,385 Z" fill="#0b4a9c"/><path d="M676.3,340 A68,68 0 1 1 693,297" fill="none" stroke="#0b4a9c" stroke-width="48" stroke-linecap="butt"/><rect x="575" y="276" width="142" height="42" fill="#0b4a9c"/><path d="M745,205 L815,205 A90,90 0 0 1 815,385 L745,385 Z M800,250 L800,340 L815,340 A45,45 0 0 0 815,250 Z" fill="#0b4a9c" fill-rule="evenodd"/><rect x="925" y="252" width="55" height="133" fill="#0b4a9c"/><circle cx="952" cy="205" r="29" fill="#e2001a"/><polygon points="1005,385 1005,205 1062,205 1108,292 1155,205 1212,205 1212,385 1158,385 1158,290 1126,350 1091,350 1058,290 1058,385" fill="#0b4a9c"/></g><g transform="translate(1780,1145) scale(0.06250)"><path d="M420.0,262.0 C300,215.0 232,300.0 232,395 C232,500.0 330.0,560.0 470,470.0 C560,410 640,250.0 790.0,262.0" fill="none" stroke="#1d2b6b" stroke-width="17" stroke-linecap="round"/><path d="M414.6,276.85 C300,239.3 259,308.1 259,395 C259,483.8 338.1,535.7 470,467.3 C560,410 640,260.8 773.8,286.3" fill="none" stroke="#1d2b6b" stroke-width="15" stroke-linecap="round"/><path d="M409.6,290.6 C300,261.8 284,315.6 284,395 C284,468.8 345.6,513.2 470,464.8 C560,410 640,270.8 758.8,308.8" fill="none" stroke="#2e3a85" stroke-width="13" stroke-linecap="round"/><path d="M560,415 C610,470 680,535 790,480" fill="none" stroke="#e2001a" stroke-width="44" stroke-linecap="round"/><path d="M470,330 C520,370 545,400 575,430" fill="none" stroke="#1d2b6b" stroke-width="16"/></g><text x="1829.3" y="1176.1" font-family="Liberation Sans, sans-serif" font-weight="bold" font-size="25.2" fill="#e2001a" stroke="#e2001a" stroke-width="0.5">e</text><text x="1845.6" y="1176.1" font-family="Liberation Sans, sans-serif" font-weight="bold" font-size="25.2" fill="#1d2b6b" stroke="#1d2b6b" stroke-width="0.5" textLength="40" lengthAdjust="spacingAndGlyphs">bra</text><text x="1856.2" y="1183.3" font-family="Liberation Sans, sans-serif" font-size="5.4" fill="#1d2b6b" textLength="28.8" lengthAdjust="spacingAndGlyphs">GROUPE</text></svg>
<div class="src">Sources : Notaires de France (juillet 2024 à juin 2025) ; Afedim</div>
</body></html>
